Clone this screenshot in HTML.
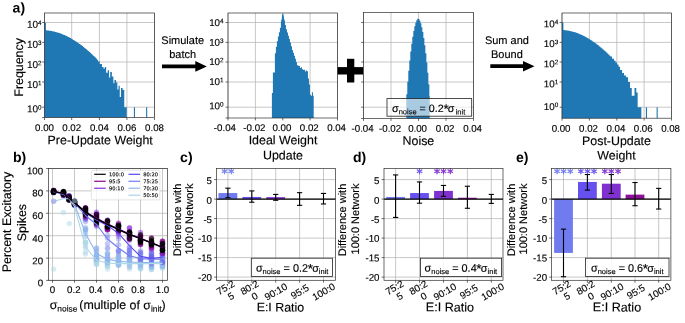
<!DOCTYPE html>
<html lang="en">
<head>
<meta charset="utf-8">
<title>Noise figure</title>
<style>
html,body{margin:0;padding:0;background:#fff;}
body{width:685px;height:323px;overflow:hidden;font-family:"Liberation Sans", Arial, Helvetica, sans-serif;}
svg{display:block;}
svg text{font-family:"Liberation Sans", Arial, Helvetica, sans-serif;}
</style>
</head>
<body>
<svg width="685" height="323" viewBox="0 0 685 323" text-rendering="geometricPrecision">
<defs><clipPath id="clipb"><rect x="48.5" y="168.5" width="119" height="111.8"/></clipPath></defs>
<rect width="685" height="323" fill="#fff"/>
<rect x="44.5" y="13" width="110" height="104.6" fill="#fff" stroke="none" stroke-width="0.8" />
<line x1="44.5" y1="13" x2="44.5" y2="117.6" stroke="#b0b0b0" stroke-width="0.7" />
<line x1="71.7" y1="13" x2="71.7" y2="117.6" stroke="#b0b0b0" stroke-width="0.7" />
<line x1="99.4" y1="13" x2="99.4" y2="117.6" stroke="#b0b0b0" stroke-width="0.7" />
<line x1="126.9" y1="13" x2="126.9" y2="117.6" stroke="#b0b0b0" stroke-width="0.7" />
<line x1="154.5" y1="13" x2="154.5" y2="117.6" stroke="#b0b0b0" stroke-width="0.7" />
<line x1="44.5" y1="22.5" x2="154.5" y2="22.5" stroke="#b0b0b0" stroke-width="0.7" />
<line x1="44.5" y1="42.4" x2="154.5" y2="42.4" stroke="#b0b0b0" stroke-width="0.7" />
<line x1="44.5" y1="62" x2="154.5" y2="62" stroke="#b0b0b0" stroke-width="0.7" />
<line x1="44.5" y1="82" x2="154.5" y2="82" stroke="#b0b0b0" stroke-width="0.7" />
<line x1="44.5" y1="107.2" x2="154.5" y2="107.2" stroke="#b0b0b0" stroke-width="0.7" />
<path d="M44.5 117.6V22.6H45.9V117.6ZM45.9 117.6V30.36H46.95V117.6ZM46.9 117.6V30.44H47.95V117.6ZM47.9 117.6V30.54H48.95V117.6ZM48.9 117.6V30.66H49.95V117.6ZM49.9 117.6V30.81H50.95V117.6ZM50.9 117.6V30.98H51.95V117.6ZM51.9 117.6V31.17H52.95V117.6ZM52.9 117.6V31.38H53.95V117.6ZM53.9 117.6V31.62H54.95V117.6ZM54.9 117.6V31.88H55.95V117.6ZM55.9 117.6V32.16H56.95V117.6ZM56.9 117.6V32.45H57.95V117.6ZM57.9 117.6V32.77H58.95V117.6ZM58.9 117.6V33.11H59.95V117.6ZM59.9 117.6V33.47H60.95V117.6ZM60.9 117.6V33.85H61.95V117.6ZM61.9 117.6V34.25H62.95V117.6ZM62.9 117.6V34.67H63.95V117.6ZM63.9 117.6V35.1H64.95V117.6ZM64.9 117.6V35.56H65.95V117.6ZM65.9 117.6V36.04H66.95V117.6ZM66.9 117.6V36.53H67.95V117.6ZM67.9 117.6V37.04H68.95V117.6ZM68.9 117.6V37.57H69.95V117.6ZM69.9 117.6V38.12H70.95V117.6ZM70.9 117.6V38.69H71.95V117.6ZM71.9 117.6V39.28H72.95V117.6ZM72.9 117.6V39.88H73.95V117.6ZM73.9 117.6V40.5H74.95V117.6ZM74.9 117.6V41.14H75.95V117.6ZM75.9 117.6V41.8H76.95V117.6ZM76.9 117.6V42.48H77.95V117.6ZM77.9 117.6V43.17H78.95V117.6ZM78.9 117.6V43.88H79.95V117.6ZM79.9 117.6V44.61H80.95V117.6ZM80.9 117.6V45.36H81.95V117.6ZM81.9 117.6V46.12H82.95V117.6ZM82.9 117.6V46.9H83.95V117.6ZM83.9 117.6V47.7H84.95V117.6ZM84.9 117.6V48.52H85.95V117.6ZM85.9 117.6V49.35H86.95V117.6ZM86.9 117.6V50.2H87.95V117.6ZM87.9 117.6V51.06H88.95V117.6ZM88.9 117.6V51.95H89.95V117.6ZM89.9 117.6V52.85H90.95V117.6ZM90.9 117.6V53.77H91.95V117.6ZM91.9 117.6V54.7H92.95V117.6ZM92.9 117.6V55.65H93.95V117.6ZM93.9 117.6V56.62H94.95V117.6ZM94.9 117.6V57.6H95.95V117.6ZM95.9 117.6V58.6H96.95V117.6ZM96 117.6V59.7H97.95V117.6ZM97.9 117.6V61.6H99.75V117.6ZM99.7 117.6V64H101.95V117.6ZM101.9 117.6V67H103.45V117.6ZM103.4 117.6V68.4H104.95V117.6ZM104.9 117.6V67.1H106.15V117.6ZM106.1 117.6V72.7H107.75V117.6ZM107.7 117.6V70.2H109.05V117.6ZM109 117.6V77.6H110.25V117.6ZM110.2 117.6V72H111.85V117.6ZM111.8 117.6V76.4H113.35V117.6ZM113.3 117.6V83.2H114.55V117.6ZM114.5 117.6V80.1H116.05V117.6ZM116 117.6V82.6H117.35V117.6ZM117.3 117.6V89.4H118.55V117.6ZM118.5 117.6V85.7H119.75V117.6ZM119.7 117.6V97H121.05V117.6ZM121 117.6V87.9H122.65V117.6ZM122.6 117.6V90H124.25V117.6ZM124.2 117.6V107.2H126.75V117.6ZM133.9 117.6V107.2H135V117.6ZM146.1 117.6V107.2H147.2V117.6Z" fill="#1f77b4"/>
<rect x="44.5" y="13" width="110" height="104.6" fill="none" stroke="#2e2e2e" stroke-width="0.7" />
<line x1="44.5" y1="117.6" x2="44.5" y2="120" stroke="#2e2e2e" stroke-width="0.7" />
<line x1="71.7" y1="117.6" x2="71.7" y2="120" stroke="#2e2e2e" stroke-width="0.7" />
<line x1="99.4" y1="117.6" x2="99.4" y2="120" stroke="#2e2e2e" stroke-width="0.7" />
<line x1="126.9" y1="117.6" x2="126.9" y2="120" stroke="#2e2e2e" stroke-width="0.7" />
<line x1="154.5" y1="117.6" x2="154.5" y2="120" stroke="#2e2e2e" stroke-width="0.7" />
<line x1="42.1" y1="22.5" x2="44.5" y2="22.5" stroke="#2e2e2e" stroke-width="0.7" />
<line x1="42.1" y1="42.4" x2="44.5" y2="42.4" stroke="#2e2e2e" stroke-width="0.7" />
<line x1="42.1" y1="62" x2="44.5" y2="62" stroke="#2e2e2e" stroke-width="0.7" />
<line x1="42.1" y1="82" x2="44.5" y2="82" stroke="#2e2e2e" stroke-width="0.7" />
<line x1="42.1" y1="107.2" x2="44.5" y2="107.2" stroke="#2e2e2e" stroke-width="0.7" />
<text x="41.6" y="27.9" font-size="10" text-anchor="end" fill="#000" transform="rotate(0.1 41.6 27.9)"  stroke="#000" stroke-width="0.14">10<tspan font-size="6.3" dy="-2.8">4</tspan></text>
<text x="41.6" y="47.8" font-size="10" text-anchor="end" fill="#000" transform="rotate(0.1 41.6 47.8)"  stroke="#000" stroke-width="0.14">10<tspan font-size="6.3" dy="-2.8">3</tspan></text>
<text x="41.6" y="68" font-size="10" text-anchor="end" fill="#000" transform="rotate(0.1 41.6 68)"  stroke="#000" stroke-width="0.14">10<tspan font-size="6.3" dy="-2.8">2</tspan></text>
<text x="41.6" y="88.1" font-size="10" text-anchor="end" fill="#000" transform="rotate(0.1 41.6 88.1)"  stroke="#000" stroke-width="0.14">10<tspan font-size="6.3" dy="-2.8">1</tspan></text>
<text x="41.6" y="112.4" font-size="10" text-anchor="end" fill="#000" transform="rotate(0.1 41.6 112.4)"  stroke="#000" stroke-width="0.14">10<tspan font-size="6.3" dy="-2.8">0</tspan></text>
<line x1="42.1" y1="117.6" x2="44.5" y2="117.6" stroke="#2e2e2e" stroke-width="0.7" />
<text x="44.5" y="131" font-size="9.7" text-anchor="middle" fill="#000" transform="rotate(0.1 44.5 131)"  stroke="#000" stroke-width="0.14">0.00</text>
<text x="71.7" y="131" font-size="9.7" text-anchor="middle" fill="#000" transform="rotate(0.1 71.7 131)"  stroke="#000" stroke-width="0.14">0.02</text>
<text x="99.4" y="131" font-size="9.7" text-anchor="middle" fill="#000" transform="rotate(0.1 99.4 131)"  stroke="#000" stroke-width="0.14">0.04</text>
<text x="126.9" y="131" font-size="9.7" text-anchor="middle" fill="#000" transform="rotate(0.1 126.9 131)"  stroke="#000" stroke-width="0.14">0.06</text>
<text x="154.5" y="131" font-size="9.7" text-anchor="middle" fill="#000" transform="rotate(0.1 154.5 131)"  stroke="#000" stroke-width="0.14">0.08</text>
<text x="100.2" y="144.3" font-size="12.4" text-anchor="middle" fill="#000" transform="rotate(0.1 100.2 144.3)"  stroke="#000" stroke-width="0.14">Pre-Update Weight</text>
<text x="23.3" y="67.4" font-size="12.4" text-anchor="middle" fill="#000" transform="rotate(-90 23.3 67.4)"  stroke="#000" stroke-width="0.14">Frequency</text>
<text x="12.6" y="12.6" font-size="14" text-anchor="start" font-weight="bold" fill="#000" transform="rotate(0.1 12.6 12.6)" >a)</text>
<path d="M162 64.5H195.3V61.1L206.8 66.4L195.3 71.7V68.3H162Z" fill="#000"/>
<text x="182.7" y="44" font-size="11" text-anchor="middle" fill="#000" transform="rotate(0.1 182.7 44)"  stroke="#000" stroke-width="0.14">Simulate</text>
<text x="182.7" y="58" font-size="11" text-anchor="middle" fill="#000" transform="rotate(0.1 182.7 58)"  stroke="#000" stroke-width="0.14">batch</text>
<rect x="228" y="13" width="109.5" height="105" fill="#fff" stroke="none" stroke-width="0.8" />
<line x1="228" y1="13" x2="228" y2="118" stroke="#b0b0b0" stroke-width="0.7" />
<line x1="255.4" y1="13" x2="255.4" y2="118" stroke="#b0b0b0" stroke-width="0.7" />
<line x1="282.8" y1="13" x2="282.8" y2="118" stroke="#b0b0b0" stroke-width="0.7" />
<line x1="310.1" y1="13" x2="310.1" y2="118" stroke="#b0b0b0" stroke-width="0.7" />
<line x1="337.5" y1="13" x2="337.5" y2="118" stroke="#b0b0b0" stroke-width="0.7" />
<line x1="228" y1="22.5" x2="337.5" y2="22.5" stroke="#b0b0b0" stroke-width="0.7" />
<line x1="228" y1="42.4" x2="337.5" y2="42.4" stroke="#b0b0b0" stroke-width="0.7" />
<line x1="228" y1="62" x2="337.5" y2="62" stroke="#b0b0b0" stroke-width="0.7" />
<line x1="228" y1="82" x2="337.5" y2="82" stroke="#b0b0b0" stroke-width="0.7" />
<line x1="228" y1="107.2" x2="337.5" y2="107.2" stroke="#b0b0b0" stroke-width="0.7" />
<path d="M271.9 118V92.9H272.95V118ZM272.9 118V72.4H273.95V118ZM273.9 118V72.4H274.95V118ZM274.9 118V53.34H275.95V118ZM275.9 118V46.78H276.95V118ZM276.9 118V41.13H277.95V118ZM277.9 118V36.55H278.95V118ZM278.9 118V32.25H279.95V118ZM279.9 118V27.67H280.95V118ZM280.9 118V22.02H281.95V118ZM281.9 118V16.36H282.95V118ZM282.9 118V16.62H283.95V118ZM283.9 118V20.82H284.95V118ZM284.9 118V25.02H285.95V118ZM285.9 118V29.13H286.95V118ZM286.9 118V32.42H287.95V118ZM287.9 118V35.72H288.95V118ZM288.9 118V39.01H289.95V118ZM289.9 118V42.58H290.95V118ZM290.9 118V46.28H291.95V118ZM291.9 118V49.9H292.95V118ZM292.9 118V52.87H293.95V118ZM293.9 118V55.84H294.95V118ZM294.9 118V58.81H295.95V118ZM295.9 118V61.94H296.95V118ZM296.9 118V65.18H297.95V118ZM297.9 118V65.72H298.95V118ZM298.9 118V66.02H299.95V118ZM299.9 118V67.93H300.95V118ZM300.9 118V67.3H301.95V118ZM301.9 118V69.23H302.95V118ZM302.9 118V69.63H303.95V118ZM303.9 118V69.71H304.95V118ZM304.9 118V71.52H305.95V118ZM305.9 118V70.39H306.95V118ZM306.9 118V71.34H307.95V118ZM307.9 118V78.5H308.95V118ZM308.9 118V84.61H309.95V118ZM309.9 118V94.78H310.95V118ZM310.9 118V95.8H311.95V118ZM311.9 118V92.3H312.95V118ZM312.9 118V95.8H313.7V118ZM282 118V14.2H283.6V118ZM281.2 118V19.5H284.6V118Z" fill="#1f77b4"/>
<rect x="228" y="13" width="109.5" height="105" fill="none" stroke="#2e2e2e" stroke-width="0.7" />
<line x1="228" y1="118" x2="228" y2="120.4" stroke="#2e2e2e" stroke-width="0.7" />
<line x1="255.4" y1="118" x2="255.4" y2="120.4" stroke="#2e2e2e" stroke-width="0.7" />
<line x1="282.8" y1="118" x2="282.8" y2="120.4" stroke="#2e2e2e" stroke-width="0.7" />
<line x1="310.1" y1="118" x2="310.1" y2="120.4" stroke="#2e2e2e" stroke-width="0.7" />
<line x1="337.5" y1="118" x2="337.5" y2="120.4" stroke="#2e2e2e" stroke-width="0.7" />
<line x1="225.6" y1="22.5" x2="228" y2="22.5" stroke="#2e2e2e" stroke-width="0.7" />
<line x1="225.6" y1="42.4" x2="228" y2="42.4" stroke="#2e2e2e" stroke-width="0.7" />
<line x1="225.6" y1="62" x2="228" y2="62" stroke="#2e2e2e" stroke-width="0.7" />
<line x1="225.6" y1="82" x2="228" y2="82" stroke="#2e2e2e" stroke-width="0.7" />
<line x1="225.6" y1="107.2" x2="228" y2="107.2" stroke="#2e2e2e" stroke-width="0.7" />
<line x1="225.6" y1="118" x2="228" y2="118" stroke="#2e2e2e" stroke-width="0.7" />
<text x="223.6" y="26" font-size="9.8" text-anchor="end" fill="#000" transform="rotate(0.1 223.6 26)"  stroke="#000" stroke-width="0.14">10<tspan font-size="6.4" dy="-2.8">4</tspan></text>
<text x="223.6" y="45.9" font-size="9.8" text-anchor="end" fill="#000" transform="rotate(0.1 223.6 45.9)"  stroke="#000" stroke-width="0.14">10<tspan font-size="6.4" dy="-2.8">3</tspan></text>
<text x="223.6" y="65.1" font-size="9.8" text-anchor="end" fill="#000" transform="rotate(0.1 223.6 65.1)"  stroke="#000" stroke-width="0.14">10<tspan font-size="6.4" dy="-2.8">2</tspan></text>
<text x="223.6" y="85.1" font-size="9.8" text-anchor="end" fill="#000" transform="rotate(0.1 223.6 85.1)"  stroke="#000" stroke-width="0.14">10<tspan font-size="6.4" dy="-2.8">1</tspan></text>
<text x="223.6" y="109.2" font-size="9.8" text-anchor="end" fill="#000" transform="rotate(0.1 223.6 109.2)"  stroke="#000" stroke-width="0.14">10<tspan font-size="6.4" dy="-2.8">0</tspan></text>
<text x="224.9" y="131" font-size="9.7" text-anchor="middle" fill="#000" transform="rotate(0.1 224.9 131)"  stroke="#000" stroke-width="0.14">-0.04</text>
<text x="254.4" y="131" font-size="9.7" text-anchor="middle" fill="#000" transform="rotate(0.1 254.4 131)"  stroke="#000" stroke-width="0.14">-0.02</text>
<text x="281.9" y="131" font-size="9.7" text-anchor="middle" fill="#000" transform="rotate(0.1 281.9 131)"  stroke="#000" stroke-width="0.14">0.00</text>
<text x="309.3" y="131" font-size="9.7" text-anchor="middle" fill="#000" transform="rotate(0.1 309.3 131)"  stroke="#000" stroke-width="0.14">0.02</text>
<text x="336.6" y="131" font-size="9.7" text-anchor="middle" fill="#000" transform="rotate(0.1 336.6 131)"  stroke="#000" stroke-width="0.14">0.04</text>
<text x="283" y="144.3" font-size="12.4" text-anchor="middle" fill="#000" transform="rotate(0.1 283 144.3)"  stroke="#000" stroke-width="0.14">Ideal Weight</text>
<text x="283" y="159.4" font-size="12.4" text-anchor="middle" fill="#000" transform="rotate(0.1 283 159.4)"  stroke="#000" stroke-width="0.14">Update</text>
<rect x="337.6" y="67.1" width="25.8" height="7.4" fill="#000" stroke="none" stroke-width="0.8" />
<rect x="347" y="58.8" width="7.3" height="23.7" fill="#000" stroke="none" stroke-width="0.8" />
<rect x="363.5" y="12.5" width="110" height="106" fill="#fff" stroke="none" stroke-width="0.8" />
<line x1="363.5" y1="12.5" x2="363.5" y2="118.5" stroke="#b0b0b0" stroke-width="0.7" />
<line x1="391" y1="12.5" x2="391" y2="118.5" stroke="#b0b0b0" stroke-width="0.7" />
<line x1="418.5" y1="12.5" x2="418.5" y2="118.5" stroke="#b0b0b0" stroke-width="0.7" />
<line x1="446" y1="12.5" x2="446" y2="118.5" stroke="#b0b0b0" stroke-width="0.7" />
<line x1="473.5" y1="12.5" x2="473.5" y2="118.5" stroke="#b0b0b0" stroke-width="0.7" />
<line x1="363.5" y1="22.5" x2="473.5" y2="22.5" stroke="#b0b0b0" stroke-width="0.7" />
<line x1="363.5" y1="42.4" x2="473.5" y2="42.4" stroke="#b0b0b0" stroke-width="0.7" />
<line x1="363.5" y1="62" x2="473.5" y2="62" stroke="#b0b0b0" stroke-width="0.7" />
<line x1="363.5" y1="82" x2="473.5" y2="82" stroke="#b0b0b0" stroke-width="0.7" />
<line x1="363.5" y1="107.2" x2="473.5" y2="107.2" stroke="#b0b0b0" stroke-width="0.7" />
<path d="M406.3 118.5V94.13H407.35V118.5ZM407.3 118.5V81.87H408.35V118.5ZM408.3 118.5V70.69H409.35V118.5ZM409.3 118.5V60.59H410.35V118.5ZM410.3 118.5V51.58H411.35V118.5ZM411.3 118.5V43.64H412.35V118.5ZM412.3 118.5V36.78H413.35V118.5ZM413.3 118.5V31H414.35V118.5ZM414.3 118.5V26.3H415.35V118.5ZM415.3 118.5V22.69H416.35V118.5ZM416.3 118.5V20.15H417.35V118.5ZM417.3 118.5V18.69H418.35V118.5ZM418.3 118.5V18.9H419.35V118.5ZM419.3 118.5V20.57H420.35V118.5ZM420.3 118.5V23.32H421.35V118.5ZM421.3 118.5V27.16H422.35V118.5ZM422.3 118.5V32.07H423.35V118.5ZM423.3 118.5V38.07H424.35V118.5ZM424.3 118.5V45.14H425.35V118.5ZM425.3 118.5V53.29H426.35V118.5ZM426.3 118.5V62.53H427.35V118.5ZM427.3 118.5V72.84H428.35V118.5ZM428.3 118.5V84.24H429.35V118.5ZM429.3 118.5V96H429.7V118.5Z" fill="#1f77b4"/>
<rect x="363.5" y="12.5" width="110" height="106" fill="none" stroke="#2e2e2e" stroke-width="0.7" />
<line x1="363.5" y1="118.5" x2="363.5" y2="120.9" stroke="#2e2e2e" stroke-width="0.7" />
<line x1="391" y1="118.5" x2="391" y2="120.9" stroke="#2e2e2e" stroke-width="0.7" />
<line x1="418.5" y1="118.5" x2="418.5" y2="120.9" stroke="#2e2e2e" stroke-width="0.7" />
<line x1="446" y1="118.5" x2="446" y2="120.9" stroke="#2e2e2e" stroke-width="0.7" />
<line x1="473.5" y1="118.5" x2="473.5" y2="120.9" stroke="#2e2e2e" stroke-width="0.7" />
<line x1="361.1" y1="22.5" x2="363.5" y2="22.5" stroke="#2e2e2e" stroke-width="0.7" />
<line x1="361.1" y1="42.4" x2="363.5" y2="42.4" stroke="#2e2e2e" stroke-width="0.7" />
<line x1="361.1" y1="62" x2="363.5" y2="62" stroke="#2e2e2e" stroke-width="0.7" />
<line x1="361.1" y1="82" x2="363.5" y2="82" stroke="#2e2e2e" stroke-width="0.7" />
<line x1="361.1" y1="107.2" x2="363.5" y2="107.2" stroke="#2e2e2e" stroke-width="0.7" />
<text x="362.6" y="131.8" font-size="9.7" text-anchor="middle" fill="#000" transform="rotate(0.1 362.6 131.8)"  stroke="#000" stroke-width="0.14">-0.04</text>
<text x="390.1" y="131.8" font-size="9.7" text-anchor="middle" fill="#000" transform="rotate(0.1 390.1 131.8)"  stroke="#000" stroke-width="0.14">-0.02</text>
<text x="417.6" y="131.8" font-size="9.7" text-anchor="middle" fill="#000" transform="rotate(0.1 417.6 131.8)"  stroke="#000" stroke-width="0.14">0.00</text>
<text x="445.1" y="131.8" font-size="9.7" text-anchor="middle" fill="#000" transform="rotate(0.1 445.1 131.8)"  stroke="#000" stroke-width="0.14">0.02</text>
<text x="472.6" y="131.8" font-size="9.7" text-anchor="middle" fill="#000" transform="rotate(0.1 472.6 131.8)"  stroke="#000" stroke-width="0.14">0.04</text>
<line x1="361.1" y1="118.5" x2="363.5" y2="118.5" stroke="#2e2e2e" stroke-width="0.7" />
<text x="418.4" y="144.9" font-size="12.4" text-anchor="middle" fill="#000" transform="rotate(0.1 418.4 144.9)"  stroke="#000" stroke-width="0.14">Noise</text>
<rect x="387" y="98.6" width="84.7" height="17.6" fill="#fff" stroke="#222" stroke-width="0.8" fill-opacity="0.62"/>
<text x="392.1" y="111.9" font-size="10.7" text-anchor="start" fill="#000" transform="rotate(0.1 392.1 111.9)"  stroke="#000" stroke-width="0.14">σ<tspan font-size="7.5" dy="2.4">noise</tspan><tspan dy="-2.4"> = 0.2</tspan><tspan font-size="13.5" dy="1.5" dx="-0.3">*</tspan><tspan dy="-1.5" dx="-0.8">σ</tspan><tspan font-size="7.5" dy="2.4" dx="1.2">init</tspan></text>
<path d="M490.3 64.3H523V60.9L534.5 66.2L523 71.5V68.1H490.3Z" fill="#000"/>
<text x="506.9" y="44" font-size="11" text-anchor="middle" fill="#000" transform="rotate(0.1 506.9 44)"  stroke="#000" stroke-width="0.14">Sum and</text>
<text x="506.9" y="58" font-size="11" text-anchor="middle" fill="#000" transform="rotate(0.1 506.9 58)"  stroke="#000" stroke-width="0.14">Bound</text>
<rect x="562" y="13" width="109.5" height="105.2" fill="#fff" stroke="none" stroke-width="0.8" />
<line x1="562" y1="13" x2="562" y2="118.2" stroke="#b0b0b0" stroke-width="0.7" />
<line x1="589.4" y1="13" x2="589.4" y2="118.2" stroke="#b0b0b0" stroke-width="0.7" />
<line x1="616.8" y1="13" x2="616.8" y2="118.2" stroke="#b0b0b0" stroke-width="0.7" />
<line x1="644.1" y1="13" x2="644.1" y2="118.2" stroke="#b0b0b0" stroke-width="0.7" />
<line x1="671.5" y1="13" x2="671.5" y2="118.2" stroke="#b0b0b0" stroke-width="0.7" />
<line x1="562" y1="22.5" x2="671.5" y2="22.5" stroke="#b0b0b0" stroke-width="0.7" />
<line x1="562" y1="42.4" x2="671.5" y2="42.4" stroke="#b0b0b0" stroke-width="0.7" />
<line x1="562" y1="62" x2="671.5" y2="62" stroke="#b0b0b0" stroke-width="0.7" />
<line x1="562" y1="82" x2="671.5" y2="82" stroke="#b0b0b0" stroke-width="0.7" />
<line x1="562" y1="107.2" x2="671.5" y2="107.2" stroke="#b0b0b0" stroke-width="0.7" />
<path d="M562 118.2V22.6H563.4V118.2ZM563.4 118.2V30.07H564.45V118.2ZM564.4 118.2V30.14H565.45V118.2ZM565.4 118.2V30.25H566.45V118.2ZM566.4 118.2V30.38H567.45V118.2ZM567.4 118.2V30.53H568.45V118.2ZM568.4 118.2V30.71H569.45V118.2ZM569.4 118.2V30.92H570.45V118.2ZM570.4 118.2V31.14H571.45V118.2ZM571.4 118.2V31.39H572.45V118.2ZM572.4 118.2V31.66H573.45V118.2ZM573.4 118.2V31.95H574.45V118.2ZM574.4 118.2V32.27H575.45V118.2ZM575.4 118.2V32.6H576.45V118.2ZM576.4 118.2V32.96H577.45V118.2ZM577.4 118.2V33.34H578.45V118.2ZM578.4 118.2V33.74H579.45V118.2ZM579.4 118.2V34.16H580.45V118.2ZM580.4 118.2V34.6H581.45V118.2ZM581.4 118.2V35.06H582.45V118.2ZM582.4 118.2V35.54H583.45V118.2ZM583.4 118.2V36.04H584.45V118.2ZM584.4 118.2V36.56H585.45V118.2ZM585.4 118.2V37.1H586.45V118.2ZM586.4 118.2V37.66H587.45V118.2ZM587.4 118.2V38.23H588.45V118.2ZM588.4 118.2V38.83H589.45V118.2ZM589.4 118.2V39.45H590.45V118.2ZM590.4 118.2V40.09H591.45V118.2ZM591.4 118.2V40.74H592.45V118.2ZM592.4 118.2V41.41H593.45V118.2ZM593.4 118.2V42.11H594.45V118.2ZM594.4 118.2V42.82H595.45V118.2ZM595.4 118.2V43.55H596.45V118.2ZM596.4 118.2V44.3H597.45V118.2ZM597.4 118.2V45.06H598.45V118.2ZM598.4 118.2V45.85H599.45V118.2ZM599.4 118.2V46.65H600.45V118.2ZM600.4 118.2V47.48H601.45V118.2ZM601.4 118.2V48.32H602.45V118.2ZM602.4 118.2V49.17H603.45V118.2ZM603.4 118.2V50.05H604.45V118.2ZM604.4 118.2V50.94H605.45V118.2ZM605.4 118.2V51.86H606.45V118.2ZM606.4 118.2V52.79H607.45V118.2ZM607.4 118.2V53.73H608.45V118.2ZM608.4 118.2V54.7H609.45V118.2ZM609.4 118.2V55.68H610.45V118.2ZM610 118.2V56.6H612.05V118.2ZM612 118.2V58.8H614.05V118.2ZM614 118.2V60.8H615.55V118.2ZM615.5 118.2V62.5H617.05V118.2ZM617 118.2V64.6H618.55V118.2ZM618.5 118.2V66.8H620.05V118.2ZM620 118.2V70H622.05V118.2ZM622 118.2V73H624.05V118.2ZM624 118.2V75.6H626.05V118.2ZM626 118.2V77.2H628.05V118.2ZM628 118.2V82H630.05V118.2ZM630 118.2V88H631.75V118.2ZM631.7 118.2V95.8H634.55V118.2ZM634.5 118.2V88H636.25V118.2ZM636.2 118.2V92.6H637.65V118.2ZM637.6 118.2V107.2H641.35V118.2ZM645.9 118.2V107.2H647V118.2ZM656.6 118.2V107.2H657.7V118.2Z" fill="#1f77b4"/>
<rect x="562" y="13" width="109.5" height="105.2" fill="none" stroke="#2e2e2e" stroke-width="0.7" />
<line x1="562" y1="118.2" x2="562" y2="120.6" stroke="#2e2e2e" stroke-width="0.7" />
<line x1="589.4" y1="118.2" x2="589.4" y2="120.6" stroke="#2e2e2e" stroke-width="0.7" />
<line x1="616.8" y1="118.2" x2="616.8" y2="120.6" stroke="#2e2e2e" stroke-width="0.7" />
<line x1="644.1" y1="118.2" x2="644.1" y2="120.6" stroke="#2e2e2e" stroke-width="0.7" />
<line x1="671.5" y1="118.2" x2="671.5" y2="120.6" stroke="#2e2e2e" stroke-width="0.7" />
<line x1="559.6" y1="22.5" x2="562" y2="22.5" stroke="#2e2e2e" stroke-width="0.7" />
<line x1="559.6" y1="42.4" x2="562" y2="42.4" stroke="#2e2e2e" stroke-width="0.7" />
<line x1="559.6" y1="62" x2="562" y2="62" stroke="#2e2e2e" stroke-width="0.7" />
<line x1="559.6" y1="82" x2="562" y2="82" stroke="#2e2e2e" stroke-width="0.7" />
<line x1="559.6" y1="107.2" x2="562" y2="107.2" stroke="#2e2e2e" stroke-width="0.7" />
<text x="558.3" y="27.2" font-size="9.8" text-anchor="end" fill="#000" transform="rotate(0.1 558.3 27.2)"  stroke="#000" stroke-width="0.14">10<tspan font-size="6.4" dy="-2.9">4</tspan></text>
<text x="558.3" y="47.1" font-size="9.8" text-anchor="end" fill="#000" transform="rotate(0.1 558.3 47.1)"  stroke="#000" stroke-width="0.14">10<tspan font-size="6.4" dy="-2.9">3</tspan></text>
<text x="558.3" y="67.2" font-size="9.8" text-anchor="end" fill="#000" transform="rotate(0.1 558.3 67.2)"  stroke="#000" stroke-width="0.14">10<tspan font-size="6.4" dy="-2.9">2</tspan></text>
<text x="558.3" y="87.2" font-size="9.8" text-anchor="end" fill="#000" transform="rotate(0.1 558.3 87.2)"  stroke="#000" stroke-width="0.14">10<tspan font-size="6.4" dy="-2.9">1</tspan></text>
<text x="558.3" y="110" font-size="9.8" text-anchor="end" fill="#000" transform="rotate(0.1 558.3 110)"  stroke="#000" stroke-width="0.14">10<tspan font-size="6.4" dy="-2.9">0</tspan></text>
<text x="561.1" y="131.7" font-size="9.7" text-anchor="middle" fill="#000" transform="rotate(0.1 561.1 131.7)"  stroke="#000" stroke-width="0.14">0.00</text>
<text x="588.5" y="131.7" font-size="9.7" text-anchor="middle" fill="#000" transform="rotate(0.1 588.5 131.7)"  stroke="#000" stroke-width="0.14">0.02</text>
<text x="615.9" y="131.7" font-size="9.7" text-anchor="middle" fill="#000" transform="rotate(0.1 615.9 131.7)"  stroke="#000" stroke-width="0.14">0.04</text>
<text x="643.2" y="131.7" font-size="9.7" text-anchor="middle" fill="#000" transform="rotate(0.1 643.2 131.7)"  stroke="#000" stroke-width="0.14">0.06</text>
<text x="670.6" y="131.7" font-size="9.7" text-anchor="middle" fill="#000" transform="rotate(0.1 670.6 131.7)"  stroke="#000" stroke-width="0.14">0.08</text>
<text x="616.5" y="145" font-size="12.4" text-anchor="middle" fill="#000" transform="rotate(0.1 616.5 145)"  stroke="#000" stroke-width="0.14">Post-Update</text>
<text x="616.5" y="159.6" font-size="12.4" text-anchor="middle" fill="#000" transform="rotate(0.1 616.5 159.6)"  stroke="#000" stroke-width="0.14">Weight</text>
<rect x="48.5" y="168.5" width="119" height="111.8" fill="#fff" stroke="none" stroke-width="0.8" />
<line x1="52.5" y1="168.5" x2="52.5" y2="280.3" stroke="#b0b0b0" stroke-width="0.7" />
<line x1="74.5" y1="168.5" x2="74.5" y2="280.3" stroke="#b0b0b0" stroke-width="0.7" />
<line x1="96.5" y1="168.5" x2="96.5" y2="280.3" stroke="#b0b0b0" stroke-width="0.7" />
<line x1="118.5" y1="168.5" x2="118.5" y2="280.3" stroke="#b0b0b0" stroke-width="0.7" />
<line x1="140.5" y1="168.5" x2="140.5" y2="280.3" stroke="#b0b0b0" stroke-width="0.7" />
<line x1="162.5" y1="168.5" x2="162.5" y2="280.3" stroke="#b0b0b0" stroke-width="0.7" />
<line x1="48.5" y1="168.5" x2="167.5" y2="168.5" stroke="#b0b0b0" stroke-width="0.7" />
<line x1="48.5" y1="190.9" x2="167.5" y2="190.9" stroke="#b0b0b0" stroke-width="0.7" />
<line x1="48.5" y1="213.3" x2="167.5" y2="213.3" stroke="#b0b0b0" stroke-width="0.7" />
<line x1="48.5" y1="235.7" x2="167.5" y2="235.7" stroke="#b0b0b0" stroke-width="0.7" />
<line x1="48.5" y1="258.1" x2="167.5" y2="258.1" stroke="#b0b0b0" stroke-width="0.7" />
<line x1="48.5" y1="280.4" x2="167.5" y2="280.4" stroke="#b0b0b0" stroke-width="0.7" />
<g clip-path="url(#clipb)">
<circle cx="96.5" cy="260.28" r="2.7" fill="#8f98ee" fill-opacity="0.45"/>
<circle cx="96.5" cy="259.96" r="2.7" fill="#8f98ee" fill-opacity="0.45"/>
<circle cx="96.5" cy="254.73" r="2.7" fill="#8f98ee" fill-opacity="0.45"/>
<circle cx="96.5" cy="248.42" r="2.7" fill="#8f98ee" fill-opacity="0.45"/>
<circle cx="96.5" cy="259.44" r="2.7" fill="#8f98ee" fill-opacity="0.45"/>
<circle cx="96.5" cy="257.88" r="2.7" fill="#8f98ee" fill-opacity="0.45"/>
<circle cx="96.5" cy="251.55" r="2.7" fill="#8f98ee" fill-opacity="0.45"/>
<circle cx="96.5" cy="259.52" r="2.7" fill="#add8e6" fill-opacity="0.5"/>
<circle cx="96.5" cy="262.21" r="2.7" fill="#add8e6" fill-opacity="0.5"/>
<circle cx="96.5" cy="263.53" r="2.7" fill="#add8e6" fill-opacity="0.5"/>
<circle cx="96.5" cy="259.31" r="2.7" fill="#add8e6" fill-opacity="0.5"/>
<circle cx="107.5" cy="260.65" r="2.7" fill="#8f98ee" fill-opacity="0.45"/>
<circle cx="107.5" cy="247.93" r="2.7" fill="#8f98ee" fill-opacity="0.45"/>
<circle cx="107.5" cy="256.84" r="2.7" fill="#8f98ee" fill-opacity="0.45"/>
<circle cx="107.5" cy="259.12" r="2.7" fill="#8f98ee" fill-opacity="0.45"/>
<circle cx="107.5" cy="259.53" r="2.7" fill="#8f98ee" fill-opacity="0.45"/>
<circle cx="107.5" cy="256.54" r="2.7" fill="#8f98ee" fill-opacity="0.45"/>
<circle cx="107.5" cy="248.59" r="2.7" fill="#8f98ee" fill-opacity="0.45"/>
<circle cx="107.5" cy="265.1" r="2.7" fill="#add8e6" fill-opacity="0.5"/>
<circle cx="107.5" cy="262.18" r="2.7" fill="#add8e6" fill-opacity="0.5"/>
<circle cx="107.5" cy="261.77" r="2.7" fill="#add8e6" fill-opacity="0.5"/>
<circle cx="107.5" cy="263.7" r="2.7" fill="#add8e6" fill-opacity="0.5"/>
<circle cx="118.5" cy="252.8" r="2.7" fill="#8f98ee" fill-opacity="0.45"/>
<circle cx="118.5" cy="260.39" r="2.7" fill="#8f98ee" fill-opacity="0.45"/>
<circle cx="118.5" cy="260.44" r="2.7" fill="#8f98ee" fill-opacity="0.45"/>
<circle cx="118.5" cy="258.15" r="2.7" fill="#8f98ee" fill-opacity="0.45"/>
<circle cx="118.5" cy="250.72" r="2.7" fill="#8f98ee" fill-opacity="0.45"/>
<circle cx="118.5" cy="254.68" r="2.7" fill="#8f98ee" fill-opacity="0.45"/>
<circle cx="118.5" cy="256.46" r="2.7" fill="#8f98ee" fill-opacity="0.45"/>
<circle cx="118.5" cy="262.15" r="2.7" fill="#add8e6" fill-opacity="0.5"/>
<circle cx="118.5" cy="263.12" r="2.7" fill="#add8e6" fill-opacity="0.5"/>
<circle cx="118.5" cy="264.23" r="2.7" fill="#add8e6" fill-opacity="0.5"/>
<circle cx="118.5" cy="260.63" r="2.7" fill="#add8e6" fill-opacity="0.5"/>
<circle cx="129.5" cy="250.43" r="2.7" fill="#8f98ee" fill-opacity="0.45"/>
<circle cx="129.5" cy="257.55" r="2.7" fill="#8f98ee" fill-opacity="0.45"/>
<circle cx="129.5" cy="252.38" r="2.7" fill="#8f98ee" fill-opacity="0.45"/>
<circle cx="129.5" cy="253.15" r="2.7" fill="#8f98ee" fill-opacity="0.45"/>
<circle cx="129.5" cy="247.67" r="2.7" fill="#8f98ee" fill-opacity="0.45"/>
<circle cx="129.5" cy="249.95" r="2.7" fill="#8f98ee" fill-opacity="0.45"/>
<circle cx="129.5" cy="256.87" r="2.7" fill="#8f98ee" fill-opacity="0.45"/>
<circle cx="129.5" cy="259.28" r="2.7" fill="#add8e6" fill-opacity="0.5"/>
<circle cx="129.5" cy="265.55" r="2.7" fill="#add8e6" fill-opacity="0.5"/>
<circle cx="129.5" cy="263.37" r="2.7" fill="#add8e6" fill-opacity="0.5"/>
<circle cx="129.5" cy="260.91" r="2.7" fill="#add8e6" fill-opacity="0.5"/>
<circle cx="140.5" cy="259.51" r="2.7" fill="#8f98ee" fill-opacity="0.45"/>
<circle cx="140.5" cy="255.36" r="2.7" fill="#8f98ee" fill-opacity="0.45"/>
<circle cx="140.5" cy="260.89" r="2.7" fill="#8f98ee" fill-opacity="0.45"/>
<circle cx="140.5" cy="253.15" r="2.7" fill="#8f98ee" fill-opacity="0.45"/>
<circle cx="140.5" cy="251.97" r="2.7" fill="#8f98ee" fill-opacity="0.45"/>
<circle cx="140.5" cy="254.32" r="2.7" fill="#8f98ee" fill-opacity="0.45"/>
<circle cx="140.5" cy="250.6" r="2.7" fill="#8f98ee" fill-opacity="0.45"/>
<circle cx="140.5" cy="264.13" r="2.7" fill="#add8e6" fill-opacity="0.5"/>
<circle cx="140.5" cy="261.36" r="2.7" fill="#add8e6" fill-opacity="0.5"/>
<circle cx="140.5" cy="262.09" r="2.7" fill="#add8e6" fill-opacity="0.5"/>
<circle cx="140.5" cy="262.19" r="2.7" fill="#add8e6" fill-opacity="0.5"/>
<circle cx="151.5" cy="255.76" r="2.7" fill="#8f98ee" fill-opacity="0.45"/>
<circle cx="151.5" cy="251.04" r="2.7" fill="#8f98ee" fill-opacity="0.45"/>
<circle cx="151.5" cy="249.75" r="2.7" fill="#8f98ee" fill-opacity="0.45"/>
<circle cx="151.5" cy="255.54" r="2.7" fill="#8f98ee" fill-opacity="0.45"/>
<circle cx="151.5" cy="253.2" r="2.7" fill="#8f98ee" fill-opacity="0.45"/>
<circle cx="151.5" cy="260.63" r="2.7" fill="#8f98ee" fill-opacity="0.45"/>
<circle cx="151.5" cy="252.74" r="2.7" fill="#8f98ee" fill-opacity="0.45"/>
<circle cx="151.5" cy="261.71" r="2.7" fill="#add8e6" fill-opacity="0.5"/>
<circle cx="151.5" cy="259.19" r="2.7" fill="#add8e6" fill-opacity="0.5"/>
<circle cx="151.5" cy="260.43" r="2.7" fill="#add8e6" fill-opacity="0.5"/>
<circle cx="151.5" cy="264.34" r="2.7" fill="#add8e6" fill-opacity="0.5"/>
<circle cx="162.5" cy="256.63" r="2.7" fill="#8f98ee" fill-opacity="0.45"/>
<circle cx="162.5" cy="253.15" r="2.7" fill="#8f98ee" fill-opacity="0.45"/>
<circle cx="162.5" cy="261.1" r="2.7" fill="#8f98ee" fill-opacity="0.45"/>
<circle cx="162.5" cy="255.69" r="2.7" fill="#8f98ee" fill-opacity="0.45"/>
<circle cx="162.5" cy="259.31" r="2.7" fill="#8f98ee" fill-opacity="0.45"/>
<circle cx="162.5" cy="259.94" r="2.7" fill="#8f98ee" fill-opacity="0.45"/>
<circle cx="162.5" cy="260.65" r="2.7" fill="#8f98ee" fill-opacity="0.45"/>
<circle cx="162.5" cy="260.82" r="2.7" fill="#add8e6" fill-opacity="0.5"/>
<circle cx="162.5" cy="265.47" r="2.7" fill="#add8e6" fill-opacity="0.5"/>
<circle cx="162.5" cy="264.61" r="2.7" fill="#add8e6" fill-opacity="0.5"/>
<circle cx="162.5" cy="263.57" r="2.7" fill="#add8e6" fill-opacity="0.5"/>
<circle cx="85.5" cy="242.34" r="2.7" fill="#add8e6" fill-opacity="0.50"/>
<circle cx="85.5" cy="251.9" r="2.7" fill="#add8e6" fill-opacity="0.50"/>
<circle cx="85.5" cy="247.44" r="2.7" fill="#add8e6" fill-opacity="0.50"/>
<circle cx="85.5" cy="246.23" r="2.7" fill="#add8e6" fill-opacity="0.50"/>
<circle cx="85.5" cy="242.2" r="2.7" fill="#add8e6" fill-opacity="0.50"/>
<circle cx="85.5" cy="242.97" r="2.7" fill="#add8e6" fill-opacity="0.50"/>
<circle cx="85.5" cy="242.43" r="2.7" fill="#add8e6" fill-opacity="0.50"/>
<circle cx="96.5" cy="262.94" r="2.7" fill="#add8e6" fill-opacity="0.50"/>
<circle cx="96.5" cy="261.28" r="2.7" fill="#add8e6" fill-opacity="0.50"/>
<circle cx="96.5" cy="261.96" r="2.7" fill="#add8e6" fill-opacity="0.50"/>
<circle cx="96.5" cy="255.61" r="2.7" fill="#add8e6" fill-opacity="0.50"/>
<circle cx="96.5" cy="254.73" r="2.7" fill="#add8e6" fill-opacity="0.50"/>
<circle cx="96.5" cy="264.48" r="2.7" fill="#add8e6" fill-opacity="0.50"/>
<circle cx="96.5" cy="264.17" r="2.7" fill="#add8e6" fill-opacity="0.50"/>
<circle cx="107.5" cy="266.29" r="2.7" fill="#add8e6" fill-opacity="0.50"/>
<circle cx="107.5" cy="266.28" r="2.7" fill="#add8e6" fill-opacity="0.50"/>
<circle cx="107.5" cy="263.24" r="2.7" fill="#add8e6" fill-opacity="0.50"/>
<circle cx="107.5" cy="261.98" r="2.7" fill="#add8e6" fill-opacity="0.50"/>
<circle cx="107.5" cy="265.92" r="2.7" fill="#add8e6" fill-opacity="0.50"/>
<circle cx="107.5" cy="269.05" r="2.7" fill="#add8e6" fill-opacity="0.50"/>
<circle cx="107.5" cy="264.04" r="2.7" fill="#add8e6" fill-opacity="0.50"/>
<circle cx="118.5" cy="265.2" r="2.7" fill="#add8e6" fill-opacity="0.50"/>
<circle cx="118.5" cy="262.81" r="2.7" fill="#add8e6" fill-opacity="0.50"/>
<circle cx="118.5" cy="258.14" r="2.7" fill="#add8e6" fill-opacity="0.50"/>
<circle cx="118.5" cy="261.31" r="2.7" fill="#add8e6" fill-opacity="0.50"/>
<circle cx="118.5" cy="263.43" r="2.7" fill="#add8e6" fill-opacity="0.50"/>
<circle cx="118.5" cy="262.19" r="2.7" fill="#add8e6" fill-opacity="0.50"/>
<circle cx="118.5" cy="261.49" r="2.7" fill="#add8e6" fill-opacity="0.50"/>
<circle cx="129.5" cy="269.01" r="2.7" fill="#add8e6" fill-opacity="0.50"/>
<circle cx="129.5" cy="258.79" r="2.7" fill="#add8e6" fill-opacity="0.50"/>
<circle cx="129.5" cy="260.23" r="2.7" fill="#add8e6" fill-opacity="0.50"/>
<circle cx="129.5" cy="259.09" r="2.7" fill="#add8e6" fill-opacity="0.50"/>
<circle cx="129.5" cy="260.02" r="2.7" fill="#add8e6" fill-opacity="0.50"/>
<circle cx="129.5" cy="264.92" r="2.7" fill="#add8e6" fill-opacity="0.50"/>
<circle cx="129.5" cy="264.84" r="2.7" fill="#add8e6" fill-opacity="0.50"/>
<circle cx="140.5" cy="268.41" r="2.7" fill="#add8e6" fill-opacity="0.50"/>
<circle cx="140.5" cy="261.99" r="2.7" fill="#add8e6" fill-opacity="0.50"/>
<circle cx="140.5" cy="268.91" r="2.7" fill="#add8e6" fill-opacity="0.50"/>
<circle cx="140.5" cy="268.84" r="2.7" fill="#add8e6" fill-opacity="0.50"/>
<circle cx="140.5" cy="267.13" r="2.7" fill="#add8e6" fill-opacity="0.50"/>
<circle cx="140.5" cy="267.7" r="2.7" fill="#add8e6" fill-opacity="0.50"/>
<circle cx="140.5" cy="265.55" r="2.7" fill="#add8e6" fill-opacity="0.50"/>
<circle cx="151.5" cy="269.02" r="2.7" fill="#add8e6" fill-opacity="0.50"/>
<circle cx="151.5" cy="269.65" r="2.7" fill="#add8e6" fill-opacity="0.50"/>
<circle cx="151.5" cy="267.83" r="2.7" fill="#add8e6" fill-opacity="0.50"/>
<circle cx="151.5" cy="268.43" r="2.7" fill="#add8e6" fill-opacity="0.50"/>
<circle cx="151.5" cy="265.26" r="2.7" fill="#add8e6" fill-opacity="0.50"/>
<circle cx="151.5" cy="269.35" r="2.7" fill="#add8e6" fill-opacity="0.50"/>
<circle cx="151.5" cy="259.09" r="2.7" fill="#add8e6" fill-opacity="0.50"/>
<circle cx="162.5" cy="262.24" r="2.7" fill="#add8e6" fill-opacity="0.50"/>
<circle cx="162.5" cy="267.86" r="2.7" fill="#add8e6" fill-opacity="0.50"/>
<circle cx="162.5" cy="266.61" r="2.7" fill="#add8e6" fill-opacity="0.50"/>
<circle cx="162.5" cy="265.46" r="2.7" fill="#add8e6" fill-opacity="0.50"/>
<circle cx="162.5" cy="265.26" r="2.7" fill="#add8e6" fill-opacity="0.50"/>
<circle cx="162.5" cy="268.17" r="2.7" fill="#add8e6" fill-opacity="0.50"/>
<circle cx="162.5" cy="259.4" r="2.7" fill="#add8e6" fill-opacity="0.50"/>
<circle cx="53.6" cy="191.01" r="2.7" fill="#8db6ee" fill-opacity="0.50"/>
<circle cx="53.6" cy="192.07" r="2.7" fill="#8db6ee" fill-opacity="0.50"/>
<circle cx="53.6" cy="192.03" r="2.7" fill="#8db6ee" fill-opacity="0.50"/>
<circle cx="53.6" cy="192.83" r="2.7" fill="#8db6ee" fill-opacity="0.50"/>
<circle cx="53.6" cy="192.8" r="2.7" fill="#8db6ee" fill-opacity="0.50"/>
<circle cx="53.6" cy="192.32" r="2.7" fill="#8db6ee" fill-opacity="0.50"/>
<circle cx="53.6" cy="192.47" r="2.7" fill="#8db6ee" fill-opacity="0.50"/>
<circle cx="63.5" cy="192.91" r="2.7" fill="#8db6ee" fill-opacity="0.50"/>
<circle cx="63.5" cy="195.6" r="2.7" fill="#8db6ee" fill-opacity="0.50"/>
<circle cx="63.5" cy="196.16" r="2.7" fill="#8db6ee" fill-opacity="0.50"/>
<circle cx="63.5" cy="192.42" r="2.7" fill="#8db6ee" fill-opacity="0.50"/>
<circle cx="63.5" cy="194.12" r="2.7" fill="#8db6ee" fill-opacity="0.50"/>
<circle cx="63.5" cy="195.66" r="2.7" fill="#8db6ee" fill-opacity="0.50"/>
<circle cx="63.5" cy="194.06" r="2.7" fill="#8db6ee" fill-opacity="0.50"/>
<circle cx="69" cy="199.5" r="2.7" fill="#8db6ee" fill-opacity="0.50"/>
<circle cx="69" cy="197.48" r="2.7" fill="#8db6ee" fill-opacity="0.50"/>
<circle cx="69" cy="195.67" r="2.7" fill="#8db6ee" fill-opacity="0.50"/>
<circle cx="69" cy="196.13" r="2.7" fill="#8db6ee" fill-opacity="0.50"/>
<circle cx="69" cy="196.8" r="2.7" fill="#8db6ee" fill-opacity="0.50"/>
<circle cx="69" cy="198.56" r="2.7" fill="#8db6ee" fill-opacity="0.50"/>
<circle cx="69" cy="198.13" r="2.7" fill="#8db6ee" fill-opacity="0.50"/>
<circle cx="74.5" cy="205.65" r="2.7" fill="#8db6ee" fill-opacity="0.50"/>
<circle cx="74.5" cy="203.21" r="2.7" fill="#8db6ee" fill-opacity="0.50"/>
<circle cx="74.5" cy="204.18" r="2.7" fill="#8db6ee" fill-opacity="0.50"/>
<circle cx="74.5" cy="203.18" r="2.7" fill="#8db6ee" fill-opacity="0.50"/>
<circle cx="74.5" cy="204.99" r="2.7" fill="#8db6ee" fill-opacity="0.50"/>
<circle cx="74.5" cy="205.42" r="2.7" fill="#8db6ee" fill-opacity="0.50"/>
<circle cx="74.5" cy="203.05" r="2.7" fill="#8db6ee" fill-opacity="0.50"/>
<circle cx="85.5" cy="227.54" r="2.7" fill="#8db6ee" fill-opacity="0.50"/>
<circle cx="85.5" cy="229.14" r="2.7" fill="#8db6ee" fill-opacity="0.50"/>
<circle cx="85.5" cy="229.7" r="2.7" fill="#8db6ee" fill-opacity="0.50"/>
<circle cx="85.5" cy="229.55" r="2.7" fill="#8db6ee" fill-opacity="0.50"/>
<circle cx="85.5" cy="230.5" r="2.7" fill="#8db6ee" fill-opacity="0.50"/>
<circle cx="85.5" cy="236.7" r="2.7" fill="#8db6ee" fill-opacity="0.50"/>
<circle cx="85.5" cy="233.19" r="2.7" fill="#8db6ee" fill-opacity="0.50"/>
<circle cx="96.5" cy="255.29" r="2.7" fill="#8db6ee" fill-opacity="0.50"/>
<circle cx="96.5" cy="259.24" r="2.7" fill="#8db6ee" fill-opacity="0.50"/>
<circle cx="96.5" cy="259.25" r="2.7" fill="#8db6ee" fill-opacity="0.50"/>
<circle cx="96.5" cy="256.21" r="2.7" fill="#8db6ee" fill-opacity="0.50"/>
<circle cx="96.5" cy="256.45" r="2.7" fill="#8db6ee" fill-opacity="0.50"/>
<circle cx="96.5" cy="251.22" r="2.7" fill="#8db6ee" fill-opacity="0.50"/>
<circle cx="96.5" cy="248.03" r="2.7" fill="#8db6ee" fill-opacity="0.50"/>
<circle cx="107.5" cy="259.78" r="2.7" fill="#8db6ee" fill-opacity="0.50"/>
<circle cx="107.5" cy="253.86" r="2.7" fill="#8db6ee" fill-opacity="0.50"/>
<circle cx="107.5" cy="253.24" r="2.7" fill="#8db6ee" fill-opacity="0.50"/>
<circle cx="107.5" cy="253.64" r="2.7" fill="#8db6ee" fill-opacity="0.50"/>
<circle cx="107.5" cy="260.77" r="2.7" fill="#8db6ee" fill-opacity="0.50"/>
<circle cx="107.5" cy="262.52" r="2.7" fill="#8db6ee" fill-opacity="0.50"/>
<circle cx="107.5" cy="262.44" r="2.7" fill="#8db6ee" fill-opacity="0.50"/>
<circle cx="118.5" cy="265.04" r="2.7" fill="#8db6ee" fill-opacity="0.50"/>
<circle cx="118.5" cy="264.95" r="2.7" fill="#8db6ee" fill-opacity="0.50"/>
<circle cx="118.5" cy="259.88" r="2.7" fill="#8db6ee" fill-opacity="0.50"/>
<circle cx="118.5" cy="256.54" r="2.7" fill="#8db6ee" fill-opacity="0.50"/>
<circle cx="118.5" cy="257.26" r="2.7" fill="#8db6ee" fill-opacity="0.50"/>
<circle cx="118.5" cy="261.63" r="2.7" fill="#8db6ee" fill-opacity="0.50"/>
<circle cx="118.5" cy="259.53" r="2.7" fill="#8db6ee" fill-opacity="0.50"/>
<circle cx="129.5" cy="258.32" r="2.7" fill="#8db6ee" fill-opacity="0.50"/>
<circle cx="129.5" cy="266.95" r="2.7" fill="#8db6ee" fill-opacity="0.50"/>
<circle cx="129.5" cy="260" r="2.7" fill="#8db6ee" fill-opacity="0.50"/>
<circle cx="129.5" cy="256.98" r="2.7" fill="#8db6ee" fill-opacity="0.50"/>
<circle cx="129.5" cy="258.52" r="2.7" fill="#8db6ee" fill-opacity="0.50"/>
<circle cx="129.5" cy="258.91" r="2.7" fill="#8db6ee" fill-opacity="0.50"/>
<circle cx="129.5" cy="262.2" r="2.7" fill="#8db6ee" fill-opacity="0.50"/>
<circle cx="140.5" cy="266.38" r="2.7" fill="#8db6ee" fill-opacity="0.50"/>
<circle cx="140.5" cy="259" r="2.7" fill="#8db6ee" fill-opacity="0.50"/>
<circle cx="140.5" cy="264.52" r="2.7" fill="#8db6ee" fill-opacity="0.50"/>
<circle cx="140.5" cy="258.86" r="2.7" fill="#8db6ee" fill-opacity="0.50"/>
<circle cx="140.5" cy="256.8" r="2.7" fill="#8db6ee" fill-opacity="0.50"/>
<circle cx="140.5" cy="263.75" r="2.7" fill="#8db6ee" fill-opacity="0.50"/>
<circle cx="140.5" cy="263.69" r="2.7" fill="#8db6ee" fill-opacity="0.50"/>
<circle cx="151.5" cy="257.1" r="2.7" fill="#8db6ee" fill-opacity="0.50"/>
<circle cx="151.5" cy="259.78" r="2.7" fill="#8db6ee" fill-opacity="0.50"/>
<circle cx="151.5" cy="266.48" r="2.7" fill="#8db6ee" fill-opacity="0.50"/>
<circle cx="151.5" cy="267" r="2.7" fill="#8db6ee" fill-opacity="0.50"/>
<circle cx="151.5" cy="266.71" r="2.7" fill="#8db6ee" fill-opacity="0.50"/>
<circle cx="151.5" cy="257.6" r="2.7" fill="#8db6ee" fill-opacity="0.50"/>
<circle cx="151.5" cy="258.79" r="2.7" fill="#8db6ee" fill-opacity="0.50"/>
<circle cx="162.5" cy="266.21" r="2.7" fill="#8db6ee" fill-opacity="0.50"/>
<circle cx="162.5" cy="257.99" r="2.7" fill="#8db6ee" fill-opacity="0.50"/>
<circle cx="162.5" cy="256.13" r="2.7" fill="#8db6ee" fill-opacity="0.50"/>
<circle cx="162.5" cy="260.04" r="2.7" fill="#8db6ee" fill-opacity="0.50"/>
<circle cx="162.5" cy="263.74" r="2.7" fill="#8db6ee" fill-opacity="0.50"/>
<circle cx="162.5" cy="261.35" r="2.7" fill="#8db6ee" fill-opacity="0.50"/>
<circle cx="162.5" cy="266.4" r="2.7" fill="#8db6ee" fill-opacity="0.50"/>
<circle cx="53.6" cy="192.42" r="2.7" fill="#7a86ee" fill-opacity="0.45"/>
<circle cx="53.6" cy="190.49" r="2.7" fill="#7a86ee" fill-opacity="0.45"/>
<circle cx="53.6" cy="191.14" r="2.7" fill="#7a86ee" fill-opacity="0.45"/>
<circle cx="53.6" cy="191.39" r="2.7" fill="#7a86ee" fill-opacity="0.45"/>
<circle cx="53.6" cy="190.57" r="2.7" fill="#7a86ee" fill-opacity="0.45"/>
<circle cx="53.6" cy="191.57" r="2.7" fill="#7a86ee" fill-opacity="0.45"/>
<circle cx="53.6" cy="190.69" r="2.7" fill="#7a86ee" fill-opacity="0.45"/>
<circle cx="63.5" cy="192.36" r="2.7" fill="#7a86ee" fill-opacity="0.45"/>
<circle cx="63.5" cy="194.84" r="2.7" fill="#7a86ee" fill-opacity="0.45"/>
<circle cx="63.5" cy="194.68" r="2.7" fill="#7a86ee" fill-opacity="0.45"/>
<circle cx="63.5" cy="194.51" r="2.7" fill="#7a86ee" fill-opacity="0.45"/>
<circle cx="63.5" cy="194.72" r="2.7" fill="#7a86ee" fill-opacity="0.45"/>
<circle cx="63.5" cy="193.33" r="2.7" fill="#7a86ee" fill-opacity="0.45"/>
<circle cx="63.5" cy="194.65" r="2.7" fill="#7a86ee" fill-opacity="0.45"/>
<circle cx="69" cy="197.92" r="2.7" fill="#7a86ee" fill-opacity="0.45"/>
<circle cx="69" cy="199.08" r="2.7" fill="#7a86ee" fill-opacity="0.45"/>
<circle cx="69" cy="195.94" r="2.7" fill="#7a86ee" fill-opacity="0.45"/>
<circle cx="69" cy="198.18" r="2.7" fill="#7a86ee" fill-opacity="0.45"/>
<circle cx="69" cy="197.76" r="2.7" fill="#7a86ee" fill-opacity="0.45"/>
<circle cx="69" cy="197.26" r="2.7" fill="#7a86ee" fill-opacity="0.45"/>
<circle cx="69" cy="195.97" r="2.7" fill="#7a86ee" fill-opacity="0.45"/>
<circle cx="74.5" cy="203.51" r="2.7" fill="#7a86ee" fill-opacity="0.45"/>
<circle cx="74.5" cy="201.51" r="2.7" fill="#7a86ee" fill-opacity="0.45"/>
<circle cx="74.5" cy="203.18" r="2.7" fill="#7a86ee" fill-opacity="0.45"/>
<circle cx="74.5" cy="203.06" r="2.7" fill="#7a86ee" fill-opacity="0.45"/>
<circle cx="74.5" cy="203.09" r="2.7" fill="#7a86ee" fill-opacity="0.45"/>
<circle cx="74.5" cy="205.13" r="2.7" fill="#7a86ee" fill-opacity="0.45"/>
<circle cx="74.5" cy="203.43" r="2.7" fill="#7a86ee" fill-opacity="0.45"/>
<circle cx="85.5" cy="219.33" r="2.7" fill="#7a86ee" fill-opacity="0.45"/>
<circle cx="85.5" cy="221.49" r="2.7" fill="#7a86ee" fill-opacity="0.45"/>
<circle cx="85.5" cy="211.88" r="2.7" fill="#7a86ee" fill-opacity="0.45"/>
<circle cx="85.5" cy="219.46" r="2.7" fill="#7a86ee" fill-opacity="0.45"/>
<circle cx="85.5" cy="215.82" r="2.7" fill="#7a86ee" fill-opacity="0.45"/>
<circle cx="85.5" cy="212.78" r="2.7" fill="#7a86ee" fill-opacity="0.45"/>
<circle cx="85.5" cy="214.82" r="2.7" fill="#7a86ee" fill-opacity="0.45"/>
<circle cx="96.5" cy="226.55" r="2.7" fill="#7a86ee" fill-opacity="0.45"/>
<circle cx="96.5" cy="224.23" r="2.7" fill="#7a86ee" fill-opacity="0.45"/>
<circle cx="96.5" cy="223.78" r="2.7" fill="#7a86ee" fill-opacity="0.45"/>
<circle cx="107.5" cy="235.56" r="2.7" fill="#7a86ee" fill-opacity="0.45"/>
<circle cx="107.5" cy="243.76" r="2.7" fill="#7a86ee" fill-opacity="0.45"/>
<circle cx="107.5" cy="238.27" r="2.7" fill="#7a86ee" fill-opacity="0.45"/>
<circle cx="118.5" cy="250.99" r="2.7" fill="#7a86ee" fill-opacity="0.45"/>
<circle cx="118.5" cy="250.65" r="2.7" fill="#7a86ee" fill-opacity="0.45"/>
<circle cx="118.5" cy="244.66" r="2.7" fill="#7a86ee" fill-opacity="0.45"/>
<circle cx="129.5" cy="255.69" r="2.7" fill="#7a86ee" fill-opacity="0.45"/>
<circle cx="129.5" cy="255.04" r="2.7" fill="#7a86ee" fill-opacity="0.45"/>
<circle cx="129.5" cy="252.64" r="2.7" fill="#7a86ee" fill-opacity="0.45"/>
<circle cx="140.5" cy="253.59" r="2.7" fill="#7a86ee" fill-opacity="0.45"/>
<circle cx="140.5" cy="259.27" r="2.7" fill="#7a86ee" fill-opacity="0.45"/>
<circle cx="140.5" cy="257.22" r="2.7" fill="#7a86ee" fill-opacity="0.45"/>
<circle cx="151.5" cy="259.07" r="2.7" fill="#7a86ee" fill-opacity="0.45"/>
<circle cx="151.5" cy="258.99" r="2.7" fill="#7a86ee" fill-opacity="0.45"/>
<circle cx="151.5" cy="256.81" r="2.7" fill="#7a86ee" fill-opacity="0.45"/>
<circle cx="151.5" cy="259.71" r="2.7" fill="#7a86ee" fill-opacity="0.45"/>
<circle cx="151.5" cy="258.74" r="2.7" fill="#7a86ee" fill-opacity="0.45"/>
<circle cx="151.5" cy="259.4" r="2.7" fill="#7a86ee" fill-opacity="0.45"/>
<circle cx="151.5" cy="253.8" r="2.7" fill="#7a86ee" fill-opacity="0.45"/>
<circle cx="162.5" cy="256.73" r="2.7" fill="#7a86ee" fill-opacity="0.45"/>
<circle cx="162.5" cy="254.59" r="2.7" fill="#7a86ee" fill-opacity="0.45"/>
<circle cx="162.5" cy="253.8" r="2.7" fill="#7a86ee" fill-opacity="0.45"/>
<circle cx="162.5" cy="262.04" r="2.7" fill="#7a86ee" fill-opacity="0.45"/>
<circle cx="162.5" cy="258.42" r="2.7" fill="#7a86ee" fill-opacity="0.45"/>
<circle cx="162.5" cy="253.78" r="2.7" fill="#7a86ee" fill-opacity="0.45"/>
<circle cx="162.5" cy="255.03" r="2.7" fill="#7a86ee" fill-opacity="0.45"/>
<circle cx="53.6" cy="192.17" r="2.7" fill="#6a5cee" fill-opacity="0.35"/>
<circle cx="53.6" cy="192.2" r="2.7" fill="#6a5cee" fill-opacity="0.35"/>
<circle cx="53.6" cy="191.56" r="2.7" fill="#6a5cee" fill-opacity="0.35"/>
<circle cx="53.6" cy="192.3" r="2.7" fill="#6a5cee" fill-opacity="0.35"/>
<circle cx="53.6" cy="191.96" r="2.7" fill="#6a5cee" fill-opacity="0.35"/>
<circle cx="53.6" cy="192.3" r="2.7" fill="#6a5cee" fill-opacity="0.35"/>
<circle cx="53.6" cy="191.1" r="2.7" fill="#6a5cee" fill-opacity="0.35"/>
<circle cx="63.5" cy="192.53" r="2.7" fill="#6a5cee" fill-opacity="0.35"/>
<circle cx="63.5" cy="192.08" r="2.7" fill="#6a5cee" fill-opacity="0.35"/>
<circle cx="63.5" cy="195.07" r="2.7" fill="#6a5cee" fill-opacity="0.35"/>
<circle cx="63.5" cy="192.81" r="2.7" fill="#6a5cee" fill-opacity="0.35"/>
<circle cx="63.5" cy="193.03" r="2.7" fill="#6a5cee" fill-opacity="0.35"/>
<circle cx="63.5" cy="195.12" r="2.7" fill="#6a5cee" fill-opacity="0.35"/>
<circle cx="63.5" cy="192.14" r="2.7" fill="#6a5cee" fill-opacity="0.35"/>
<circle cx="69" cy="195.71" r="2.7" fill="#6a5cee" fill-opacity="0.35"/>
<circle cx="69" cy="198.72" r="2.7" fill="#6a5cee" fill-opacity="0.35"/>
<circle cx="69" cy="195.77" r="2.7" fill="#6a5cee" fill-opacity="0.35"/>
<circle cx="69" cy="198" r="2.7" fill="#6a5cee" fill-opacity="0.35"/>
<circle cx="69" cy="197.65" r="2.7" fill="#6a5cee" fill-opacity="0.35"/>
<circle cx="69" cy="195.62" r="2.7" fill="#6a5cee" fill-opacity="0.35"/>
<circle cx="69" cy="196.25" r="2.7" fill="#6a5cee" fill-opacity="0.35"/>
<circle cx="74.5" cy="203.99" r="2.7" fill="#6a5cee" fill-opacity="0.35"/>
<circle cx="74.5" cy="202.91" r="2.7" fill="#6a5cee" fill-opacity="0.35"/>
<circle cx="74.5" cy="202.57" r="2.7" fill="#6a5cee" fill-opacity="0.35"/>
<circle cx="74.5" cy="203.28" r="2.7" fill="#6a5cee" fill-opacity="0.35"/>
<circle cx="74.5" cy="203.86" r="2.7" fill="#6a5cee" fill-opacity="0.35"/>
<circle cx="74.5" cy="203.36" r="2.7" fill="#6a5cee" fill-opacity="0.35"/>
<circle cx="74.5" cy="201.73" r="2.7" fill="#6a5cee" fill-opacity="0.35"/>
<circle cx="85.5" cy="218.51" r="2.7" fill="#6a5cee" fill-opacity="0.35"/>
<circle cx="85.5" cy="212.05" r="2.7" fill="#6a5cee" fill-opacity="0.35"/>
<circle cx="85.5" cy="213.42" r="2.7" fill="#6a5cee" fill-opacity="0.35"/>
<circle cx="85.5" cy="218.52" r="2.7" fill="#6a5cee" fill-opacity="0.35"/>
<circle cx="85.5" cy="214.74" r="2.7" fill="#6a5cee" fill-opacity="0.35"/>
<circle cx="85.5" cy="211.2" r="2.7" fill="#6a5cee" fill-opacity="0.35"/>
<circle cx="85.5" cy="212.55" r="2.7" fill="#6a5cee" fill-opacity="0.35"/>
<circle cx="96.5" cy="225.24" r="2.7" fill="#6a5cee" fill-opacity="0.35"/>
<circle cx="96.5" cy="214.11" r="2.7" fill="#6a5cee" fill-opacity="0.35"/>
<circle cx="96.5" cy="216.49" r="2.7" fill="#6a5cee" fill-opacity="0.35"/>
<circle cx="107.5" cy="219.87" r="2.7" fill="#6a5cee" fill-opacity="0.35"/>
<circle cx="107.5" cy="230.35" r="2.7" fill="#6a5cee" fill-opacity="0.35"/>
<circle cx="107.5" cy="228.4" r="2.7" fill="#6a5cee" fill-opacity="0.35"/>
<circle cx="118.5" cy="238.97" r="2.7" fill="#6a5cee" fill-opacity="0.35"/>
<circle cx="118.5" cy="230.03" r="2.7" fill="#6a5cee" fill-opacity="0.35"/>
<circle cx="118.5" cy="236.18" r="2.7" fill="#6a5cee" fill-opacity="0.35"/>
<circle cx="129.5" cy="250.19" r="2.7" fill="#6a5cee" fill-opacity="0.35"/>
<circle cx="129.5" cy="246.65" r="2.7" fill="#6a5cee" fill-opacity="0.35"/>
<circle cx="129.5" cy="240.74" r="2.7" fill="#6a5cee" fill-opacity="0.35"/>
<circle cx="140.5" cy="252.49" r="2.7" fill="#6a5cee" fill-opacity="0.35"/>
<circle cx="140.5" cy="259.26" r="2.7" fill="#6a5cee" fill-opacity="0.35"/>
<circle cx="140.5" cy="260.58" r="2.7" fill="#6a5cee" fill-opacity="0.35"/>
<circle cx="151.5" cy="253.29" r="2.7" fill="#6a5cee" fill-opacity="0.35"/>
<circle cx="151.5" cy="257.5" r="2.7" fill="#6a5cee" fill-opacity="0.35"/>
<circle cx="151.5" cy="255.93" r="2.7" fill="#6a5cee" fill-opacity="0.35"/>
<circle cx="151.5" cy="263.32" r="2.7" fill="#6a5cee" fill-opacity="0.35"/>
<circle cx="151.5" cy="263.7" r="2.7" fill="#6a5cee" fill-opacity="0.35"/>
<circle cx="151.5" cy="256.08" r="2.7" fill="#6a5cee" fill-opacity="0.35"/>
<circle cx="151.5" cy="259.26" r="2.7" fill="#6a5cee" fill-opacity="0.35"/>
<circle cx="162.5" cy="262.4" r="2.7" fill="#6a5cee" fill-opacity="0.35"/>
<circle cx="162.5" cy="251.94" r="2.7" fill="#6a5cee" fill-opacity="0.35"/>
<circle cx="162.5" cy="255.61" r="2.7" fill="#6a5cee" fill-opacity="0.35"/>
<circle cx="162.5" cy="253.59" r="2.7" fill="#6a5cee" fill-opacity="0.35"/>
<circle cx="162.5" cy="262.27" r="2.7" fill="#6a5cee" fill-opacity="0.35"/>
<circle cx="162.5" cy="252.93" r="2.7" fill="#6a5cee" fill-opacity="0.35"/>
<circle cx="162.5" cy="262.47" r="2.7" fill="#6a5cee" fill-opacity="0.35"/>
<circle cx="53.6" cy="190.71" r="2.7" fill="#8a2be2" fill-opacity="0.50"/>
<circle cx="53.6" cy="191.53" r="2.7" fill="#8a2be2" fill-opacity="0.50"/>
<circle cx="53.6" cy="191.76" r="2.7" fill="#8a2be2" fill-opacity="0.50"/>
<circle cx="53.6" cy="191.33" r="2.7" fill="#8a2be2" fill-opacity="0.50"/>
<circle cx="53.6" cy="190.58" r="2.7" fill="#8a2be2" fill-opacity="0.50"/>
<circle cx="53.6" cy="191.91" r="2.7" fill="#8a2be2" fill-opacity="0.50"/>
<circle cx="53.6" cy="192.19" r="2.7" fill="#8a2be2" fill-opacity="0.50"/>
<circle cx="63.5" cy="193.46" r="2.7" fill="#8a2be2" fill-opacity="0.50"/>
<circle cx="63.5" cy="194.62" r="2.7" fill="#8a2be2" fill-opacity="0.50"/>
<circle cx="63.5" cy="195.14" r="2.7" fill="#8a2be2" fill-opacity="0.50"/>
<circle cx="63.5" cy="194.93" r="2.7" fill="#8a2be2" fill-opacity="0.50"/>
<circle cx="63.5" cy="195.38" r="2.7" fill="#8a2be2" fill-opacity="0.50"/>
<circle cx="63.5" cy="194.77" r="2.7" fill="#8a2be2" fill-opacity="0.50"/>
<circle cx="63.5" cy="194.32" r="2.7" fill="#8a2be2" fill-opacity="0.50"/>
<circle cx="69" cy="198.83" r="2.7" fill="#8a2be2" fill-opacity="0.50"/>
<circle cx="69" cy="197" r="2.7" fill="#8a2be2" fill-opacity="0.50"/>
<circle cx="69" cy="198.89" r="2.7" fill="#8a2be2" fill-opacity="0.50"/>
<circle cx="69" cy="198.04" r="2.7" fill="#8a2be2" fill-opacity="0.50"/>
<circle cx="69" cy="199.34" r="2.7" fill="#8a2be2" fill-opacity="0.50"/>
<circle cx="69" cy="198.66" r="2.7" fill="#8a2be2" fill-opacity="0.50"/>
<circle cx="69" cy="199.98" r="2.7" fill="#8a2be2" fill-opacity="0.50"/>
<circle cx="74.5" cy="203.86" r="2.7" fill="#8a2be2" fill-opacity="0.50"/>
<circle cx="74.5" cy="204.81" r="2.7" fill="#8a2be2" fill-opacity="0.50"/>
<circle cx="74.5" cy="201.91" r="2.7" fill="#8a2be2" fill-opacity="0.50"/>
<circle cx="74.5" cy="202.65" r="2.7" fill="#8a2be2" fill-opacity="0.50"/>
<circle cx="74.5" cy="204.1" r="2.7" fill="#8a2be2" fill-opacity="0.50"/>
<circle cx="74.5" cy="202.95" r="2.7" fill="#8a2be2" fill-opacity="0.50"/>
<circle cx="74.5" cy="201.1" r="2.7" fill="#8a2be2" fill-opacity="0.50"/>
<circle cx="85.5" cy="217.16" r="2.7" fill="#8a2be2" fill-opacity="0.50"/>
<circle cx="85.5" cy="208.07" r="2.7" fill="#8a2be2" fill-opacity="0.50"/>
<circle cx="85.5" cy="213.01" r="2.7" fill="#8a2be2" fill-opacity="0.50"/>
<circle cx="85.5" cy="212.2" r="2.7" fill="#8a2be2" fill-opacity="0.50"/>
<circle cx="85.5" cy="207.87" r="2.7" fill="#8a2be2" fill-opacity="0.50"/>
<circle cx="85.5" cy="213.5" r="2.7" fill="#8a2be2" fill-opacity="0.50"/>
<circle cx="85.5" cy="212.06" r="2.7" fill="#8a2be2" fill-opacity="0.50"/>
<circle cx="96.5" cy="215.9" r="2.7" fill="#8a2be2" fill-opacity="0.50"/>
<circle cx="96.5" cy="212.14" r="2.7" fill="#8a2be2" fill-opacity="0.50"/>
<circle cx="96.5" cy="220.3" r="2.7" fill="#8a2be2" fill-opacity="0.50"/>
<circle cx="96.5" cy="214.06" r="2.7" fill="#8a2be2" fill-opacity="0.50"/>
<circle cx="96.5" cy="215.66" r="2.7" fill="#8a2be2" fill-opacity="0.50"/>
<circle cx="96.5" cy="216.56" r="2.7" fill="#8a2be2" fill-opacity="0.50"/>
<circle cx="96.5" cy="219.51" r="2.7" fill="#8a2be2" fill-opacity="0.50"/>
<circle cx="107.5" cy="225.84" r="2.7" fill="#8a2be2" fill-opacity="0.50"/>
<circle cx="107.5" cy="229.57" r="2.7" fill="#8a2be2" fill-opacity="0.50"/>
<circle cx="107.5" cy="228.61" r="2.7" fill="#8a2be2" fill-opacity="0.50"/>
<circle cx="107.5" cy="229.37" r="2.7" fill="#8a2be2" fill-opacity="0.50"/>
<circle cx="107.5" cy="220.82" r="2.7" fill="#8a2be2" fill-opacity="0.50"/>
<circle cx="107.5" cy="227.01" r="2.7" fill="#8a2be2" fill-opacity="0.50"/>
<circle cx="107.5" cy="228.19" r="2.7" fill="#8a2be2" fill-opacity="0.50"/>
<circle cx="118.5" cy="234.23" r="2.7" fill="#8a2be2" fill-opacity="0.50"/>
<circle cx="118.5" cy="224.57" r="2.7" fill="#8a2be2" fill-opacity="0.50"/>
<circle cx="118.5" cy="224.2" r="2.7" fill="#8a2be2" fill-opacity="0.50"/>
<circle cx="118.5" cy="226.75" r="2.7" fill="#8a2be2" fill-opacity="0.50"/>
<circle cx="118.5" cy="231.71" r="2.7" fill="#8a2be2" fill-opacity="0.50"/>
<circle cx="118.5" cy="232.21" r="2.7" fill="#8a2be2" fill-opacity="0.50"/>
<circle cx="118.5" cy="231.57" r="2.7" fill="#8a2be2" fill-opacity="0.50"/>
<circle cx="129.5" cy="234.48" r="2.7" fill="#8a2be2" fill-opacity="0.50"/>
<circle cx="129.5" cy="238.33" r="2.7" fill="#8a2be2" fill-opacity="0.50"/>
<circle cx="129.5" cy="234.65" r="2.7" fill="#8a2be2" fill-opacity="0.50"/>
<circle cx="129.5" cy="236.98" r="2.7" fill="#8a2be2" fill-opacity="0.50"/>
<circle cx="129.5" cy="228.07" r="2.7" fill="#8a2be2" fill-opacity="0.50"/>
<circle cx="129.5" cy="227.93" r="2.7" fill="#8a2be2" fill-opacity="0.50"/>
<circle cx="129.5" cy="233.36" r="2.7" fill="#8a2be2" fill-opacity="0.50"/>
<circle cx="140.5" cy="241.7" r="2.7" fill="#8a2be2" fill-opacity="0.50"/>
<circle cx="140.5" cy="232.5" r="2.7" fill="#8a2be2" fill-opacity="0.50"/>
<circle cx="140.5" cy="240.87" r="2.7" fill="#8a2be2" fill-opacity="0.50"/>
<circle cx="140.5" cy="240.27" r="2.7" fill="#8a2be2" fill-opacity="0.50"/>
<circle cx="140.5" cy="244.8" r="2.7" fill="#8a2be2" fill-opacity="0.50"/>
<circle cx="140.5" cy="239.95" r="2.7" fill="#8a2be2" fill-opacity="0.50"/>
<circle cx="140.5" cy="238.76" r="2.7" fill="#8a2be2" fill-opacity="0.50"/>
<circle cx="151.5" cy="242.88" r="2.7" fill="#8a2be2" fill-opacity="0.50"/>
<circle cx="151.5" cy="246.73" r="2.7" fill="#8a2be2" fill-opacity="0.50"/>
<circle cx="151.5" cy="242.85" r="2.7" fill="#8a2be2" fill-opacity="0.50"/>
<circle cx="151.5" cy="249.23" r="2.7" fill="#8a2be2" fill-opacity="0.50"/>
<circle cx="151.5" cy="245.92" r="2.7" fill="#8a2be2" fill-opacity="0.50"/>
<circle cx="151.5" cy="248.15" r="2.7" fill="#8a2be2" fill-opacity="0.50"/>
<circle cx="151.5" cy="244.2" r="2.7" fill="#8a2be2" fill-opacity="0.50"/>
<circle cx="162.5" cy="253.24" r="2.7" fill="#8a2be2" fill-opacity="0.50"/>
<circle cx="162.5" cy="253.48" r="2.7" fill="#8a2be2" fill-opacity="0.50"/>
<circle cx="162.5" cy="249.89" r="2.7" fill="#8a2be2" fill-opacity="0.50"/>
<circle cx="162.5" cy="250.8" r="2.7" fill="#8a2be2" fill-opacity="0.50"/>
<circle cx="162.5" cy="246.3" r="2.7" fill="#8a2be2" fill-opacity="0.50"/>
<circle cx="162.5" cy="247.02" r="2.7" fill="#8a2be2" fill-opacity="0.50"/>
<circle cx="162.5" cy="244.19" r="2.7" fill="#8a2be2" fill-opacity="0.50"/>
<circle cx="53.6" cy="191.12" r="2.7" fill="#8b008b" fill-opacity="0.50"/>
<circle cx="53.6" cy="191" r="2.7" fill="#8b008b" fill-opacity="0.50"/>
<circle cx="53.6" cy="190.68" r="2.7" fill="#8b008b" fill-opacity="0.50"/>
<circle cx="53.6" cy="191.66" r="2.7" fill="#8b008b" fill-opacity="0.50"/>
<circle cx="53.6" cy="191.79" r="2.7" fill="#8b008b" fill-opacity="0.50"/>
<circle cx="53.6" cy="190.46" r="2.7" fill="#8b008b" fill-opacity="0.50"/>
<circle cx="53.6" cy="192.15" r="2.7" fill="#8b008b" fill-opacity="0.50"/>
<circle cx="63.5" cy="192.55" r="2.7" fill="#8b008b" fill-opacity="0.50"/>
<circle cx="63.5" cy="192.88" r="2.7" fill="#8b008b" fill-opacity="0.50"/>
<circle cx="63.5" cy="195.29" r="2.7" fill="#8b008b" fill-opacity="0.50"/>
<circle cx="63.5" cy="192.1" r="2.7" fill="#8b008b" fill-opacity="0.50"/>
<circle cx="63.5" cy="191.87" r="2.7" fill="#8b008b" fill-opacity="0.50"/>
<circle cx="63.5" cy="192.94" r="2.7" fill="#8b008b" fill-opacity="0.50"/>
<circle cx="63.5" cy="192.51" r="2.7" fill="#8b008b" fill-opacity="0.50"/>
<circle cx="69" cy="196.78" r="2.7" fill="#8b008b" fill-opacity="0.50"/>
<circle cx="69" cy="199.49" r="2.7" fill="#8b008b" fill-opacity="0.50"/>
<circle cx="69" cy="197.95" r="2.7" fill="#8b008b" fill-opacity="0.50"/>
<circle cx="69" cy="198.02" r="2.7" fill="#8b008b" fill-opacity="0.50"/>
<circle cx="69" cy="196.69" r="2.7" fill="#8b008b" fill-opacity="0.50"/>
<circle cx="69" cy="196.81" r="2.7" fill="#8b008b" fill-opacity="0.50"/>
<circle cx="69" cy="196.73" r="2.7" fill="#8b008b" fill-opacity="0.50"/>
<circle cx="74.5" cy="202.4" r="2.7" fill="#8b008b" fill-opacity="0.50"/>
<circle cx="74.5" cy="201.16" r="2.7" fill="#8b008b" fill-opacity="0.50"/>
<circle cx="74.5" cy="202" r="2.7" fill="#8b008b" fill-opacity="0.50"/>
<circle cx="74.5" cy="201.96" r="2.7" fill="#8b008b" fill-opacity="0.50"/>
<circle cx="74.5" cy="203.83" r="2.7" fill="#8b008b" fill-opacity="0.50"/>
<circle cx="74.5" cy="204.63" r="2.7" fill="#8b008b" fill-opacity="0.50"/>
<circle cx="74.5" cy="204.22" r="2.7" fill="#8b008b" fill-opacity="0.50"/>
<circle cx="85.5" cy="213.69" r="2.7" fill="#8b008b" fill-opacity="0.50"/>
<circle cx="85.5" cy="216.96" r="2.7" fill="#8b008b" fill-opacity="0.50"/>
<circle cx="85.5" cy="207.63" r="2.7" fill="#8b008b" fill-opacity="0.50"/>
<circle cx="85.5" cy="211.17" r="2.7" fill="#8b008b" fill-opacity="0.50"/>
<circle cx="85.5" cy="210.29" r="2.7" fill="#8b008b" fill-opacity="0.50"/>
<circle cx="85.5" cy="210.31" r="2.7" fill="#8b008b" fill-opacity="0.50"/>
<circle cx="85.5" cy="209.61" r="2.7" fill="#8b008b" fill-opacity="0.50"/>
<circle cx="96.5" cy="218.43" r="2.7" fill="#8b008b" fill-opacity="0.50"/>
<circle cx="96.5" cy="224.63" r="2.7" fill="#8b008b" fill-opacity="0.50"/>
<circle cx="96.5" cy="214.5" r="2.7" fill="#8b008b" fill-opacity="0.50"/>
<circle cx="96.5" cy="215.13" r="2.7" fill="#8b008b" fill-opacity="0.50"/>
<circle cx="96.5" cy="218.26" r="2.7" fill="#8b008b" fill-opacity="0.50"/>
<circle cx="96.5" cy="217.85" r="2.7" fill="#8b008b" fill-opacity="0.50"/>
<circle cx="96.5" cy="216.26" r="2.7" fill="#8b008b" fill-opacity="0.50"/>
<circle cx="107.5" cy="229.65" r="2.7" fill="#8b008b" fill-opacity="0.50"/>
<circle cx="107.5" cy="221.09" r="2.7" fill="#8b008b" fill-opacity="0.50"/>
<circle cx="107.5" cy="227.28" r="2.7" fill="#8b008b" fill-opacity="0.50"/>
<circle cx="107.5" cy="229.54" r="2.7" fill="#8b008b" fill-opacity="0.50"/>
<circle cx="107.5" cy="227.1" r="2.7" fill="#8b008b" fill-opacity="0.50"/>
<circle cx="107.5" cy="221.19" r="2.7" fill="#8b008b" fill-opacity="0.50"/>
<circle cx="107.5" cy="227.87" r="2.7" fill="#8b008b" fill-opacity="0.50"/>
<circle cx="118.5" cy="226.09" r="2.7" fill="#8b008b" fill-opacity="0.50"/>
<circle cx="118.5" cy="223.08" r="2.7" fill="#8b008b" fill-opacity="0.50"/>
<circle cx="118.5" cy="229.23" r="2.7" fill="#8b008b" fill-opacity="0.50"/>
<circle cx="118.5" cy="230.65" r="2.7" fill="#8b008b" fill-opacity="0.50"/>
<circle cx="118.5" cy="229.42" r="2.7" fill="#8b008b" fill-opacity="0.50"/>
<circle cx="118.5" cy="226.81" r="2.7" fill="#8b008b" fill-opacity="0.50"/>
<circle cx="118.5" cy="225.74" r="2.7" fill="#8b008b" fill-opacity="0.50"/>
<circle cx="129.5" cy="232.69" r="2.7" fill="#8b008b" fill-opacity="0.50"/>
<circle cx="129.5" cy="232.36" r="2.7" fill="#8b008b" fill-opacity="0.50"/>
<circle cx="129.5" cy="239.58" r="2.7" fill="#8b008b" fill-opacity="0.50"/>
<circle cx="129.5" cy="238.68" r="2.7" fill="#8b008b" fill-opacity="0.50"/>
<circle cx="129.5" cy="237.32" r="2.7" fill="#8b008b" fill-opacity="0.50"/>
<circle cx="129.5" cy="231.08" r="2.7" fill="#8b008b" fill-opacity="0.50"/>
<circle cx="129.5" cy="236.68" r="2.7" fill="#8b008b" fill-opacity="0.50"/>
<circle cx="140.5" cy="237.46" r="2.7" fill="#8b008b" fill-opacity="0.50"/>
<circle cx="140.5" cy="244.54" r="2.7" fill="#8b008b" fill-opacity="0.50"/>
<circle cx="140.5" cy="243.93" r="2.7" fill="#8b008b" fill-opacity="0.50"/>
<circle cx="140.5" cy="241.28" r="2.7" fill="#8b008b" fill-opacity="0.50"/>
<circle cx="140.5" cy="236.13" r="2.7" fill="#8b008b" fill-opacity="0.50"/>
<circle cx="140.5" cy="235.87" r="2.7" fill="#8b008b" fill-opacity="0.50"/>
<circle cx="140.5" cy="236.08" r="2.7" fill="#8b008b" fill-opacity="0.50"/>
<circle cx="151.5" cy="245.47" r="2.7" fill="#8b008b" fill-opacity="0.50"/>
<circle cx="151.5" cy="242.59" r="2.7" fill="#8b008b" fill-opacity="0.50"/>
<circle cx="151.5" cy="243.25" r="2.7" fill="#8b008b" fill-opacity="0.50"/>
<circle cx="151.5" cy="243.23" r="2.7" fill="#8b008b" fill-opacity="0.50"/>
<circle cx="151.5" cy="247.67" r="2.7" fill="#8b008b" fill-opacity="0.50"/>
<circle cx="151.5" cy="237.78" r="2.7" fill="#8b008b" fill-opacity="0.50"/>
<circle cx="151.5" cy="246.64" r="2.7" fill="#8b008b" fill-opacity="0.50"/>
<circle cx="162.5" cy="241.18" r="2.7" fill="#8b008b" fill-opacity="0.50"/>
<circle cx="162.5" cy="241.71" r="2.7" fill="#8b008b" fill-opacity="0.50"/>
<circle cx="162.5" cy="253.43" r="2.7" fill="#8b008b" fill-opacity="0.50"/>
<circle cx="162.5" cy="247.8" r="2.7" fill="#8b008b" fill-opacity="0.50"/>
<circle cx="162.5" cy="243.2" r="2.7" fill="#8b008b" fill-opacity="0.50"/>
<circle cx="162.5" cy="241.31" r="2.7" fill="#8b008b" fill-opacity="0.50"/>
<circle cx="162.5" cy="247.92" r="2.7" fill="#8b008b" fill-opacity="0.50"/>
<circle cx="53.6" cy="191.91" r="2.7" fill="#000000" fill-opacity="0.60"/>
<circle cx="53.6" cy="192.02" r="2.7" fill="#000000" fill-opacity="0.60"/>
<circle cx="53.6" cy="190.54" r="2.7" fill="#000000" fill-opacity="0.60"/>
<circle cx="53.6" cy="192.02" r="2.7" fill="#000000" fill-opacity="0.60"/>
<circle cx="53.6" cy="191.28" r="2.7" fill="#000000" fill-opacity="0.60"/>
<circle cx="53.6" cy="192.16" r="2.7" fill="#000000" fill-opacity="0.60"/>
<circle cx="53.6" cy="191.39" r="2.7" fill="#000000" fill-opacity="0.60"/>
<circle cx="63.5" cy="191.52" r="2.7" fill="#000000" fill-opacity="0.60"/>
<circle cx="63.5" cy="194.82" r="2.7" fill="#000000" fill-opacity="0.60"/>
<circle cx="63.5" cy="192.05" r="2.7" fill="#000000" fill-opacity="0.60"/>
<circle cx="63.5" cy="193.31" r="2.7" fill="#000000" fill-opacity="0.60"/>
<circle cx="63.5" cy="191.78" r="2.7" fill="#000000" fill-opacity="0.60"/>
<circle cx="63.5" cy="192.52" r="2.7" fill="#000000" fill-opacity="0.60"/>
<circle cx="63.5" cy="194.42" r="2.7" fill="#000000" fill-opacity="0.60"/>
<circle cx="69" cy="196.44" r="2.7" fill="#000000" fill-opacity="0.60"/>
<circle cx="69" cy="198.1" r="2.7" fill="#000000" fill-opacity="0.60"/>
<circle cx="69" cy="199.96" r="2.7" fill="#000000" fill-opacity="0.60"/>
<circle cx="69" cy="200.04" r="2.7" fill="#000000" fill-opacity="0.60"/>
<circle cx="69" cy="198.08" r="2.7" fill="#000000" fill-opacity="0.60"/>
<circle cx="69" cy="198.24" r="2.7" fill="#000000" fill-opacity="0.60"/>
<circle cx="69" cy="198.84" r="2.7" fill="#000000" fill-opacity="0.60"/>
<circle cx="74.5" cy="204.08" r="2.7" fill="#000000" fill-opacity="0.60"/>
<circle cx="74.5" cy="203.26" r="2.7" fill="#000000" fill-opacity="0.60"/>
<circle cx="74.5" cy="203.37" r="2.7" fill="#000000" fill-opacity="0.60"/>
<circle cx="74.5" cy="201.26" r="2.7" fill="#000000" fill-opacity="0.60"/>
<circle cx="74.5" cy="204.64" r="2.7" fill="#000000" fill-opacity="0.60"/>
<circle cx="74.5" cy="201.62" r="2.7" fill="#000000" fill-opacity="0.60"/>
<circle cx="74.5" cy="201.26" r="2.7" fill="#000000" fill-opacity="0.60"/>
<circle cx="85.5" cy="215.58" r="2.7" fill="#000000" fill-opacity="0.60"/>
<circle cx="85.5" cy="208.28" r="2.7" fill="#000000" fill-opacity="0.60"/>
<circle cx="85.5" cy="210.21" r="2.7" fill="#000000" fill-opacity="0.60"/>
<circle cx="85.5" cy="208.5" r="2.7" fill="#000000" fill-opacity="0.60"/>
<circle cx="85.5" cy="214.05" r="2.7" fill="#000000" fill-opacity="0.60"/>
<circle cx="85.5" cy="213.3" r="2.7" fill="#000000" fill-opacity="0.60"/>
<circle cx="85.5" cy="213.11" r="2.7" fill="#000000" fill-opacity="0.60"/>
<circle cx="96.5" cy="214.33" r="2.7" fill="#000000" fill-opacity="0.60"/>
<circle cx="96.5" cy="218.05" r="2.7" fill="#000000" fill-opacity="0.60"/>
<circle cx="96.5" cy="220.12" r="2.7" fill="#000000" fill-opacity="0.60"/>
<circle cx="96.5" cy="219.51" r="2.7" fill="#000000" fill-opacity="0.60"/>
<circle cx="96.5" cy="220.89" r="2.7" fill="#000000" fill-opacity="0.60"/>
<circle cx="96.5" cy="222.95" r="2.7" fill="#000000" fill-opacity="0.60"/>
<circle cx="96.5" cy="222.47" r="2.7" fill="#000000" fill-opacity="0.60"/>
<circle cx="107.5" cy="221.42" r="2.7" fill="#000000" fill-opacity="0.60"/>
<circle cx="107.5" cy="226.39" r="2.7" fill="#000000" fill-opacity="0.60"/>
<circle cx="107.5" cy="220.5" r="2.7" fill="#000000" fill-opacity="0.60"/>
<circle cx="107.5" cy="226.72" r="2.7" fill="#000000" fill-opacity="0.60"/>
<circle cx="107.5" cy="226.57" r="2.7" fill="#000000" fill-opacity="0.60"/>
<circle cx="107.5" cy="224.35" r="2.7" fill="#000000" fill-opacity="0.60"/>
<circle cx="107.5" cy="227.26" r="2.7" fill="#000000" fill-opacity="0.60"/>
<circle cx="118.5" cy="230.63" r="2.7" fill="#000000" fill-opacity="0.60"/>
<circle cx="118.5" cy="225.35" r="2.7" fill="#000000" fill-opacity="0.60"/>
<circle cx="118.5" cy="226" r="2.7" fill="#000000" fill-opacity="0.60"/>
<circle cx="118.5" cy="226.66" r="2.7" fill="#000000" fill-opacity="0.60"/>
<circle cx="118.5" cy="228.3" r="2.7" fill="#000000" fill-opacity="0.60"/>
<circle cx="118.5" cy="225.74" r="2.7" fill="#000000" fill-opacity="0.60"/>
<circle cx="118.5" cy="225.49" r="2.7" fill="#000000" fill-opacity="0.60"/>
<circle cx="129.5" cy="234.07" r="2.7" fill="#000000" fill-opacity="0.60"/>
<circle cx="129.5" cy="232.53" r="2.7" fill="#000000" fill-opacity="0.60"/>
<circle cx="129.5" cy="238.6" r="2.7" fill="#000000" fill-opacity="0.60"/>
<circle cx="129.5" cy="232.41" r="2.7" fill="#000000" fill-opacity="0.60"/>
<circle cx="129.5" cy="234.97" r="2.7" fill="#000000" fill-opacity="0.60"/>
<circle cx="129.5" cy="232.23" r="2.7" fill="#000000" fill-opacity="0.60"/>
<circle cx="129.5" cy="233.21" r="2.7" fill="#000000" fill-opacity="0.60"/>
<circle cx="140.5" cy="240.49" r="2.7" fill="#000000" fill-opacity="0.60"/>
<circle cx="140.5" cy="242.64" r="2.7" fill="#000000" fill-opacity="0.60"/>
<circle cx="140.5" cy="234.68" r="2.7" fill="#000000" fill-opacity="0.60"/>
<circle cx="140.5" cy="241.93" r="2.7" fill="#000000" fill-opacity="0.60"/>
<circle cx="140.5" cy="238.8" r="2.7" fill="#000000" fill-opacity="0.60"/>
<circle cx="140.5" cy="239.97" r="2.7" fill="#000000" fill-opacity="0.60"/>
<circle cx="140.5" cy="240.38" r="2.7" fill="#000000" fill-opacity="0.60"/>
<circle cx="151.5" cy="240.75" r="2.7" fill="#000000" fill-opacity="0.60"/>
<circle cx="151.5" cy="238.6" r="2.7" fill="#000000" fill-opacity="0.60"/>
<circle cx="151.5" cy="245.09" r="2.7" fill="#000000" fill-opacity="0.60"/>
<circle cx="151.5" cy="241.5" r="2.7" fill="#000000" fill-opacity="0.60"/>
<circle cx="151.5" cy="244.72" r="2.7" fill="#000000" fill-opacity="0.60"/>
<circle cx="151.5" cy="242.39" r="2.7" fill="#000000" fill-opacity="0.60"/>
<circle cx="151.5" cy="243.87" r="2.7" fill="#000000" fill-opacity="0.60"/>
<circle cx="162.5" cy="250.4" r="2.7" fill="#000000" fill-opacity="0.60"/>
<circle cx="162.5" cy="250.46" r="2.7" fill="#000000" fill-opacity="0.60"/>
<circle cx="162.5" cy="250.04" r="2.7" fill="#000000" fill-opacity="0.60"/>
<circle cx="162.5" cy="243.71" r="2.7" fill="#000000" fill-opacity="0.60"/>
<circle cx="162.5" cy="247.42" r="2.7" fill="#000000" fill-opacity="0.60"/>
<circle cx="162.5" cy="249.93" r="2.7" fill="#000000" fill-opacity="0.60"/>
<circle cx="162.5" cy="243.71" r="2.7" fill="#000000" fill-opacity="0.60"/>
<path d="M53.6 201.4L63.5 198.71L69 198.71L74.5 206.55L85.5 246.83L96.5 260.26L107.5 263.06L118.5 263.61L129.5 263.61L140.5 263.61L151.5 263.61L162.5 263.61" fill="none" stroke="#add8e6" stroke-width="1.1" stroke-linejoin="round"/>
<path d="M53.6 192L63.5 194.24L69 197.59L74.5 204.31L85.5 233.4L96.5 253.54L107.5 259.14L118.5 261.38L129.5 261.94L140.5 262.5L151.5 262.5L162.5 261.94" fill="none" stroke="#8db6ee" stroke-width="1.1" stroke-linejoin="round"/>
<path d="M53.6 191.44L63.5 193.68L69 197.59L74.5 203.19L85.5 215.5L96.5 224.45L107.5 239L118.5 247.95L129.5 255.78L140.5 258.58L151.5 259.14L162.5 259.14" fill="none" stroke="#6f7bef" stroke-width="1.1" stroke-linejoin="round"/>
<path d="M53.6 191.44L63.5 193.68L69 197.59L74.5 202.63L85.5 212.7L96.5 219.97L107.5 225.57L118.5 233.4L129.5 245.71L140.5 256.34L151.5 258.36L162.5 257.24" fill="none" stroke="#5b48ee" stroke-width="1.1" stroke-linejoin="round"/>
<path d="M53.6 191.44L63.5 193.57L69 198.04L74.5 202.85L85.5 212.14L96.5 218.3L107.5 223.89L118.5 228.93L129.5 233.96L140.5 238.44L151.5 242.91L162.5 247.39" fill="none" stroke="#8a2be2" stroke-width="1.1" stroke-linejoin="round"/>
<path d="M53.6 191.44L63.5 193.45L69 198.04L74.5 202.74L85.5 211.92L96.5 218.3L107.5 224.11L118.5 229.15L129.5 234.19L140.5 238.33L151.5 242.8L162.5 247.28" fill="none" stroke="#8b008b" stroke-width="1.1" stroke-linejoin="round"/>
<path d="M53.6 191.44L63.5 193.34L69 198.04L74.5 202.63L85.5 212.14L96.5 218.85L107.5 224.45L118.5 229.49L129.5 234.52L140.5 238.55L151.5 242.91L162.5 247.39" fill="none" stroke="#000000" stroke-width="1.4" stroke-linejoin="round"/>
</g>
<circle cx="63.4" cy="212.5" r="2.7" fill="#add8e6" fill-opacity="0.5"/>
<circle cx="69.3" cy="223.6" r="2.7" fill="#add8e6" fill-opacity="0.5"/>
<circle cx="53.6" cy="269.1" r="2.7" fill="#add8e6" fill-opacity="0.5"/>
<circle cx="85.3" cy="254" r="2.7" fill="#add8e6" fill-opacity="0.5"/>
<circle cx="74.9" cy="200.5" r="2.7" fill="#add8e6" fill-opacity="0.5"/>
<circle cx="53.6" cy="201.3" r="2.8" fill="#9fa5ea" fill-opacity="0.75"/>
<rect x="48.5" y="168.5" width="119" height="111.8" fill="none" stroke="#2e2e2e" stroke-width="0.7" />
<line x1="52.5" y1="280.3" x2="52.5" y2="282.7" stroke="#2e2e2e" stroke-width="0.7" />
<line x1="74.5" y1="280.3" x2="74.5" y2="282.7" stroke="#2e2e2e" stroke-width="0.7" />
<line x1="96.5" y1="280.3" x2="96.5" y2="282.7" stroke="#2e2e2e" stroke-width="0.7" />
<line x1="118.5" y1="280.3" x2="118.5" y2="282.7" stroke="#2e2e2e" stroke-width="0.7" />
<line x1="140.5" y1="280.3" x2="140.5" y2="282.7" stroke="#2e2e2e" stroke-width="0.7" />
<line x1="162.5" y1="280.3" x2="162.5" y2="282.7" stroke="#2e2e2e" stroke-width="0.7" />
<line x1="46.1" y1="168.5" x2="48.5" y2="168.5" stroke="#2e2e2e" stroke-width="0.7" />
<line x1="46.1" y1="190.9" x2="48.5" y2="190.9" stroke="#2e2e2e" stroke-width="0.7" />
<line x1="46.1" y1="213.3" x2="48.5" y2="213.3" stroke="#2e2e2e" stroke-width="0.7" />
<line x1="46.1" y1="235.7" x2="48.5" y2="235.7" stroke="#2e2e2e" stroke-width="0.7" />
<line x1="46.1" y1="258.1" x2="48.5" y2="258.1" stroke="#2e2e2e" stroke-width="0.7" />
<line x1="46.1" y1="280.4" x2="48.5" y2="280.4" stroke="#2e2e2e" stroke-width="0.7" />
<text x="43.1" y="174.4" font-size="9.7" text-anchor="end" fill="#000" transform="rotate(0.1 43.1 174.4)"  stroke="#000" stroke-width="0.14">100</text>
<text x="43.1" y="196.2" font-size="9.7" text-anchor="end" fill="#000" transform="rotate(0.1 43.1 196.2)"  stroke="#000" stroke-width="0.14">80</text>
<text x="43.1" y="219" font-size="9.7" text-anchor="end" fill="#000" transform="rotate(0.1 43.1 219)"  stroke="#000" stroke-width="0.14">60</text>
<text x="43.1" y="242" font-size="9.7" text-anchor="end" fill="#000" transform="rotate(0.1 43.1 242)"  stroke="#000" stroke-width="0.14">40</text>
<text x="43.1" y="264.2" font-size="9.7" text-anchor="end" fill="#000" transform="rotate(0.1 43.1 264.2)"  stroke="#000" stroke-width="0.14">20</text>
<text x="43.1" y="286.3" font-size="9.7" text-anchor="end" fill="#000" transform="rotate(0.1 43.1 286.3)"  stroke="#000" stroke-width="0.14">0</text>
<text x="52.5" y="293" font-size="9.7" text-anchor="middle" fill="#000" transform="rotate(0.1 52.5 293)"  stroke="#000" stroke-width="0.14">0</text>
<text x="73.8" y="293" font-size="9.7" text-anchor="middle" fill="#000" transform="rotate(0.1 73.8 293)"  stroke="#000" stroke-width="0.14">0.2</text>
<text x="95.7" y="293" font-size="9.7" text-anchor="middle" fill="#000" transform="rotate(0.1 95.7 293)"  stroke="#000" stroke-width="0.14">0.4</text>
<text x="117.3" y="293" font-size="9.7" text-anchor="middle" fill="#000" transform="rotate(0.1 117.3 293)"  stroke="#000" stroke-width="0.14">0.6</text>
<text x="138.1" y="293" font-size="9.7" text-anchor="middle" fill="#000" transform="rotate(0.1 138.1 293)"  stroke="#000" stroke-width="0.14">0.8</text>
<text x="162.5" y="293" font-size="9.7" text-anchor="middle" fill="#000" transform="rotate(0.1 162.5 293)"  stroke="#000" stroke-width="0.14">1.0</text>
<text x="11.4" y="222" font-size="12.4" text-anchor="middle" fill="#000" transform="rotate(-90 11.4 222)"  stroke="#000" stroke-width="0.14">Percent Excitatory</text>
<text x="25.9" y="222.6" font-size="12.4" text-anchor="middle" fill="#000" transform="rotate(-90 25.9 222.6)"  stroke="#000" stroke-width="0.14">Spikes</text>
<text x="49.7" y="309" font-size="12.4" text-anchor="start" fill="#000" transform="rotate(0.1 49.7 309)"  stroke="#000" stroke-width="0.14">σ<tspan font-size="8.4" dy="2.6">noise</tspan><tspan dy="-2.6" dx="1.9">(multiple of σ</tspan><tspan font-size="8.4" dy="2.6">init</tspan><tspan dy="-2.6" dx="-0.3">)</tspan></text>
<text x="13" y="162" font-size="14" text-anchor="start" font-weight="bold" fill="#000" transform="rotate(0.1 13 162)" >b)</text>
<rect x="91.3" y="170.2" width="68.6" height="29.7" fill="#fff" stroke="#d0d0d0" stroke-width="0.6" rx="1.4" fill-opacity="0.8"/>
<line x1="94.2" y1="174.3" x2="105.7" y2="174.3" stroke="#000000" stroke-width="1.2" />
<text x="109" y="176.2" font-size="5.2" text-anchor="start" style='font-family:"DejaVu Sans", "Liberation Sans", sans-serif' fill="#000" transform="rotate(0.1 109 176.2)" stroke="#000" stroke-width="0.12">100:0</text>
<line x1="94.2" y1="181.27" x2="105.7" y2="181.27" stroke="#8b008b" stroke-width="1.2" />
<text x="109" y="183.17" font-size="5.2" text-anchor="start" style='font-family:"DejaVu Sans", "Liberation Sans", sans-serif' fill="#000" transform="rotate(0.1 109 183.17)" stroke="#000" stroke-width="0.12">95:5</text>
<line x1="94.2" y1="188.24" x2="105.7" y2="188.24" stroke="#8a2be2" stroke-width="1.2" />
<text x="109" y="190.14" font-size="5.2" text-anchor="start" style='font-family:"DejaVu Sans", "Liberation Sans", sans-serif' fill="#000" transform="rotate(0.1 109 190.14)" stroke="#000" stroke-width="0.12">90:10</text>
<line x1="128.5" y1="174.3" x2="140" y2="174.3" stroke="#5b48ee" stroke-width="1.2" />
<text x="143.2" y="176.2" font-size="5.2" text-anchor="start" style='font-family:"DejaVu Sans", "Liberation Sans", sans-serif' fill="#000" transform="rotate(0.1 143.2 176.2)" stroke="#000" stroke-width="0.12">80:20</text>
<line x1="128.5" y1="181.27" x2="140" y2="181.27" stroke="#6f7bef" stroke-width="1.2" />
<text x="143.2" y="183.17" font-size="5.2" text-anchor="start" style='font-family:"DejaVu Sans", "Liberation Sans", sans-serif' fill="#000" transform="rotate(0.1 143.2 183.17)" stroke="#000" stroke-width="0.12">75:25</text>
<line x1="128.5" y1="188.24" x2="140" y2="188.24" stroke="#8fb4ee" stroke-width="1.2" />
<text x="143.2" y="190.14" font-size="5.2" text-anchor="start" style='font-family:"DejaVu Sans", "Liberation Sans", sans-serif' fill="#000" transform="rotate(0.1 143.2 190.14)" stroke="#000" stroke-width="0.12">70:30</text>
<line x1="128.5" y1="195.21" x2="140" y2="195.21" stroke="#a9d3ec" stroke-width="1.2" />
<text x="143.2" y="197.11" font-size="5.2" text-anchor="start" style='font-family:"DejaVu Sans", "Liberation Sans", sans-serif' fill="#000" transform="rotate(0.1 143.2 197.11)" stroke="#000" stroke-width="0.12">50:50</text>
<rect x="216.5" y="168.5" width="119" height="111.8" fill="#fff" stroke="none" stroke-width="0.8" />
<line x1="227.9" y1="168.5" x2="227.9" y2="280.3" stroke="#b0b0b0" stroke-width="0.7" />
<line x1="251.8" y1="168.5" x2="251.8" y2="280.3" stroke="#b0b0b0" stroke-width="0.7" />
<line x1="275.7" y1="168.5" x2="275.7" y2="280.3" stroke="#b0b0b0" stroke-width="0.7" />
<line x1="299.6" y1="168.5" x2="299.6" y2="280.3" stroke="#b0b0b0" stroke-width="0.7" />
<line x1="323.5" y1="168.5" x2="323.5" y2="280.3" stroke="#b0b0b0" stroke-width="0.7" />
<line x1="216.5" y1="179.6" x2="335.5" y2="179.6" stroke="#b0b0b0" stroke-width="0.7" />
<line x1="216.5" y1="199.1" x2="335.5" y2="199.1" stroke="#b0b0b0" stroke-width="0.7" />
<line x1="216.5" y1="218.6" x2="335.5" y2="218.6" stroke="#b0b0b0" stroke-width="0.7" />
<line x1="216.5" y1="238.1" x2="335.5" y2="238.1" stroke="#b0b0b0" stroke-width="0.7" />
<line x1="216.5" y1="257.6" x2="335.5" y2="257.6" stroke="#b0b0b0" stroke-width="0.7" />
<line x1="216.5" y1="277.1" x2="335.5" y2="277.1" stroke="#b0b0b0" stroke-width="0.7" />
<rect x="218.5" y="193.06" width="18.8" height="6.04" fill="#6f7bef" stroke="none" stroke-width="0.8" />
<rect x="242.4" y="196.95" width="18.8" height="2.15" fill="#6650f0" stroke="none" stroke-width="0.8" />
<rect x="266.3" y="197.15" width="18.8" height="1.95" fill="#8030d0" stroke="none" stroke-width="0.8" />
<line x1="216.5" y1="199.1" x2="335.5" y2="199.1" stroke="#000" stroke-width="1.2" />
<line x1="227.9" y1="188.18" x2="227.9" y2="197.73" stroke="#000" stroke-width="1.1" />
<line x1="225.3" y1="188.18" x2="230.5" y2="188.18" stroke="#000" stroke-width="1.1" />
<line x1="225.3" y1="197.73" x2="230.5" y2="197.73" stroke="#000" stroke-width="1.1" />
<line x1="251.8" y1="190.91" x2="251.8" y2="202.22" stroke="#000" stroke-width="1.1" />
<line x1="249.2" y1="190.91" x2="254.4" y2="190.91" stroke="#000" stroke-width="1.1" />
<line x1="249.2" y1="202.22" x2="254.4" y2="202.22" stroke="#000" stroke-width="1.1" />
<line x1="275.7" y1="194.42" x2="275.7" y2="200.27" stroke="#000" stroke-width="1.1" />
<line x1="273.1" y1="194.42" x2="278.3" y2="194.42" stroke="#000" stroke-width="1.1" />
<line x1="273.1" y1="200.27" x2="278.3" y2="200.27" stroke="#000" stroke-width="1.1" />
<line x1="299.6" y1="192.66" x2="299.6" y2="205.34" stroke="#000" stroke-width="1.1" />
<line x1="297" y1="192.66" x2="302.2" y2="192.66" stroke="#000" stroke-width="1.1" />
<line x1="297" y1="205.34" x2="302.2" y2="205.34" stroke="#000" stroke-width="1.1" />
<line x1="323.5" y1="193.44" x2="323.5" y2="203.97" stroke="#000" stroke-width="1.1" />
<line x1="320.9" y1="193.44" x2="326.1" y2="193.44" stroke="#000" stroke-width="1.1" />
<line x1="320.9" y1="203.97" x2="326.1" y2="203.97" stroke="#000" stroke-width="1.1" />
<text x="228.25" y="177.6" font-size="12.2" text-anchor="middle" style='font-family:"DejaVu Sans", "Liberation Sans", sans-serif' fill="#6f7bef" transform="rotate(0.1 228.25 177.6)" stroke="#6f7bef" stroke-width="0.4" letter-spacing="0.55">**</text>
<rect x="216.5" y="168.5" width="119" height="111.8" fill="none" stroke="#2e2e2e" stroke-width="0.7" />
<line x1="227.9" y1="280.3" x2="227.9" y2="282.7" stroke="#2e2e2e" stroke-width="0.7" />
<line x1="251.8" y1="280.3" x2="251.8" y2="282.7" stroke="#2e2e2e" stroke-width="0.7" />
<line x1="275.7" y1="280.3" x2="275.7" y2="282.7" stroke="#2e2e2e" stroke-width="0.7" />
<line x1="299.6" y1="280.3" x2="299.6" y2="282.7" stroke="#2e2e2e" stroke-width="0.7" />
<line x1="323.5" y1="280.3" x2="323.5" y2="282.7" stroke="#2e2e2e" stroke-width="0.7" />
<line x1="214.1" y1="179.6" x2="216.5" y2="179.6" stroke="#2e2e2e" stroke-width="0.7" />
<line x1="214.1" y1="199.1" x2="216.5" y2="199.1" stroke="#2e2e2e" stroke-width="0.7" />
<line x1="214.1" y1="218.6" x2="216.5" y2="218.6" stroke="#2e2e2e" stroke-width="0.7" />
<line x1="214.1" y1="238.1" x2="216.5" y2="238.1" stroke="#2e2e2e" stroke-width="0.7" />
<line x1="214.1" y1="257.6" x2="216.5" y2="257.6" stroke="#2e2e2e" stroke-width="0.7" />
<line x1="214.1" y1="277.1" x2="216.5" y2="277.1" stroke="#2e2e2e" stroke-width="0.7" />
<text x="212" y="183.9" font-size="9.7" text-anchor="end" fill="#000" transform="rotate(0.1 212 183.9)"  stroke="#000" stroke-width="0.14">5</text>
<text x="212" y="203.8" font-size="9.7" text-anchor="end" fill="#000" transform="rotate(0.1 212 203.8)"  stroke="#000" stroke-width="0.14">0</text>
<text x="212" y="223.1" font-size="9.7" text-anchor="end" fill="#000" transform="rotate(0.1 212 223.1)"  stroke="#000" stroke-width="0.14">-5</text>
<text x="212" y="241.8" font-size="9.7" text-anchor="end" fill="#000" transform="rotate(0.1 212 241.8)"  stroke="#000" stroke-width="0.14">-10</text>
<text x="212" y="261.4" font-size="9.7" text-anchor="end" fill="#000" transform="rotate(0.1 212 261.4)"  stroke="#000" stroke-width="0.14">-15</text>
<text x="212" y="280.7" font-size="9.7" text-anchor="end" fill="#000" transform="rotate(0.1 212 280.7)"  stroke="#000" stroke-width="0.14">-20</text>
<text x="225.6" y="290.9" font-size="9.8" text-anchor="middle" fill="#000" transform="rotate(-30 225.6 287.6)" stroke="#000" stroke-width="0.14">75:2</text>
<text x="230.9" y="299.7" font-size="9.8" text-anchor="middle" fill="#000" transform="rotate(-30 230.9 296.4)" stroke="#000" stroke-width="0.14">5</text>
<text x="249.5" y="290.9" font-size="9.8" text-anchor="middle" fill="#000" transform="rotate(-30 249.5 287.6)" stroke="#000" stroke-width="0.14">80:2</text>
<text x="254.8" y="299.7" font-size="9.8" text-anchor="middle" fill="#000" transform="rotate(-30 254.8 296.4)" stroke="#000" stroke-width="0.14">0</text>
<text x="276" y="295.1" font-size="9.8" text-anchor="middle" fill="#000" transform="rotate(-30 276 291.8)" stroke="#000" stroke-width="0.14">90:10</text>
<text x="299.9" y="295.1" font-size="9.8" text-anchor="middle" fill="#000" transform="rotate(-30 299.9 291.8)" stroke="#000" stroke-width="0.14">95:5</text>
<text x="323.8" y="295.1" font-size="9.8" text-anchor="middle" fill="#000" transform="rotate(-30 323.8 291.8)" stroke="#000" stroke-width="0.14">100:0</text>
<text x="280.4" y="311.4" font-size="12.4" text-anchor="middle" fill="#000" transform="rotate(0.1 280.4 311.4)"  stroke="#000" stroke-width="0.14">E:I Ratio</text>
<text x="180.5" y="220" font-size="11" text-anchor="middle" fill="#000" transform="rotate(-90 180.5 220)"  stroke="#000" stroke-width="0.14">Difference with</text>
<text x="193.1" y="219" font-size="11" text-anchor="middle" fill="#000" transform="rotate(-90 193.1 219)"  stroke="#000" stroke-width="0.14">100:0 Network</text>
<rect x="251.3" y="258.2" width="81.2" height="18.2" fill="#fff" stroke="#222" stroke-width="0.8" fill-opacity="0.85"/>
<text x="255.9" y="271.6" font-size="10.85" text-anchor="start" fill="#000" transform="rotate(0.1 255.9 271.6)"  stroke="#000" stroke-width="0.14">σ<tspan font-size="7.5" dy="2.4">noise</tspan><tspan dy="-2.4"> = 0.2</tspan><tspan font-size="13.5" dy="1.5" dx="-0.3">*</tspan><tspan dy="-1.5" dx="-0.8">σ</tspan><tspan font-size="7.5" dy="2.4" dx="0">init</tspan></text>
<text x="180.1" y="162" font-size="14" text-anchor="start" font-weight="bold" fill="#000" transform="rotate(0.1 180.1 162)" >c)</text>
<rect x="384" y="168.5" width="119" height="111.8" fill="#fff" stroke="none" stroke-width="0.8" />
<line x1="395.6" y1="168.5" x2="395.6" y2="280.3" stroke="#b0b0b0" stroke-width="0.7" />
<line x1="419.5" y1="168.5" x2="419.5" y2="280.3" stroke="#b0b0b0" stroke-width="0.7" />
<line x1="443.5" y1="168.5" x2="443.5" y2="280.3" stroke="#b0b0b0" stroke-width="0.7" />
<line x1="467.4" y1="168.5" x2="467.4" y2="280.3" stroke="#b0b0b0" stroke-width="0.7" />
<line x1="491.3" y1="168.5" x2="491.3" y2="280.3" stroke="#b0b0b0" stroke-width="0.7" />
<line x1="384" y1="179.6" x2="503" y2="179.6" stroke="#b0b0b0" stroke-width="0.7" />
<line x1="384" y1="199.1" x2="503" y2="199.1" stroke="#b0b0b0" stroke-width="0.7" />
<line x1="384" y1="218.6" x2="503" y2="218.6" stroke="#b0b0b0" stroke-width="0.7" />
<line x1="384" y1="238.1" x2="503" y2="238.1" stroke="#b0b0b0" stroke-width="0.7" />
<line x1="384" y1="257.6" x2="503" y2="257.6" stroke="#b0b0b0" stroke-width="0.7" />
<line x1="384" y1="277.1" x2="503" y2="277.1" stroke="#b0b0b0" stroke-width="0.7" />
<rect x="386.2" y="196.95" width="18.8" height="2.15" fill="#6f7bef" stroke="none" stroke-width="0.8" />
<rect x="410.1" y="193.06" width="18.8" height="6.04" fill="#6650f0" stroke="none" stroke-width="0.8" />
<rect x="434.1" y="190.91" width="18.8" height="8.19" fill="#8030d0" stroke="none" stroke-width="0.8" />
<rect x="458" y="197.73" width="18.8" height="1.37" fill="#8e0f9a" stroke="none" stroke-width="0.8" />
<line x1="384" y1="199.1" x2="503" y2="199.1" stroke="#000" stroke-width="1.2" />
<line x1="395.6" y1="174.92" x2="395.6" y2="217.43" stroke="#000" stroke-width="1.1" />
<line x1="393" y1="174.92" x2="398.2" y2="174.92" stroke="#000" stroke-width="1.1" />
<line x1="393" y1="217.43" x2="398.2" y2="217.43" stroke="#000" stroke-width="1.1" />
<line x1="419.5" y1="181.94" x2="419.5" y2="203.19" stroke="#000" stroke-width="1.1" />
<line x1="416.9" y1="181.94" x2="422.1" y2="181.94" stroke="#000" stroke-width="1.1" />
<line x1="416.9" y1="203.19" x2="422.1" y2="203.19" stroke="#000" stroke-width="1.1" />
<line x1="443.5" y1="185.45" x2="443.5" y2="196.37" stroke="#000" stroke-width="1.1" />
<line x1="440.9" y1="185.45" x2="446.1" y2="185.45" stroke="#000" stroke-width="1.1" />
<line x1="440.9" y1="196.37" x2="446.1" y2="196.37" stroke="#000" stroke-width="1.1" />
<line x1="467.4" y1="186.23" x2="467.4" y2="208.26" stroke="#000" stroke-width="1.1" />
<line x1="464.8" y1="186.23" x2="470" y2="186.23" stroke="#000" stroke-width="1.1" />
<line x1="464.8" y1="208.26" x2="470" y2="208.26" stroke="#000" stroke-width="1.1" />
<line x1="491.3" y1="194.42" x2="491.3" y2="203.39" stroke="#000" stroke-width="1.1" />
<line x1="488.7" y1="194.42" x2="493.9" y2="194.42" stroke="#000" stroke-width="1.1" />
<line x1="488.7" y1="203.39" x2="493.9" y2="203.39" stroke="#000" stroke-width="1.1" />
<text x="419.85" y="177.6" font-size="12.2" text-anchor="middle" style='font-family:"DejaVu Sans", "Liberation Sans", sans-serif' fill="#6650f0" transform="rotate(0.1 419.85 177.6)" stroke="#6650f0" stroke-width="0.4" letter-spacing="0.55">*</text>
<text x="443.85" y="177.6" font-size="12.2" text-anchor="middle" style='font-family:"DejaVu Sans", "Liberation Sans", sans-serif' fill="#8030d0" transform="rotate(0.1 443.85 177.6)" stroke="#8030d0" stroke-width="0.4" letter-spacing="0.55">***</text>
<rect x="384" y="168.5" width="119" height="111.8" fill="none" stroke="#2e2e2e" stroke-width="0.7" />
<line x1="395.6" y1="280.3" x2="395.6" y2="282.7" stroke="#2e2e2e" stroke-width="0.7" />
<line x1="419.5" y1="280.3" x2="419.5" y2="282.7" stroke="#2e2e2e" stroke-width="0.7" />
<line x1="443.5" y1="280.3" x2="443.5" y2="282.7" stroke="#2e2e2e" stroke-width="0.7" />
<line x1="467.4" y1="280.3" x2="467.4" y2="282.7" stroke="#2e2e2e" stroke-width="0.7" />
<line x1="491.3" y1="280.3" x2="491.3" y2="282.7" stroke="#2e2e2e" stroke-width="0.7" />
<line x1="381.6" y1="179.6" x2="384" y2="179.6" stroke="#2e2e2e" stroke-width="0.7" />
<line x1="381.6" y1="199.1" x2="384" y2="199.1" stroke="#2e2e2e" stroke-width="0.7" />
<line x1="381.6" y1="218.6" x2="384" y2="218.6" stroke="#2e2e2e" stroke-width="0.7" />
<line x1="381.6" y1="238.1" x2="384" y2="238.1" stroke="#2e2e2e" stroke-width="0.7" />
<line x1="381.6" y1="257.6" x2="384" y2="257.6" stroke="#2e2e2e" stroke-width="0.7" />
<line x1="381.6" y1="277.1" x2="384" y2="277.1" stroke="#2e2e2e" stroke-width="0.7" />
<text x="379.5" y="183.9" font-size="9.7" text-anchor="end" fill="#000" transform="rotate(0.1 379.5 183.9)"  stroke="#000" stroke-width="0.14">5</text>
<text x="379.5" y="203.8" font-size="9.7" text-anchor="end" fill="#000" transform="rotate(0.1 379.5 203.8)"  stroke="#000" stroke-width="0.14">0</text>
<text x="379.5" y="223.1" font-size="9.7" text-anchor="end" fill="#000" transform="rotate(0.1 379.5 223.1)"  stroke="#000" stroke-width="0.14">-5</text>
<text x="379.5" y="241.8" font-size="9.7" text-anchor="end" fill="#000" transform="rotate(0.1 379.5 241.8)"  stroke="#000" stroke-width="0.14">-10</text>
<text x="379.5" y="261.4" font-size="9.7" text-anchor="end" fill="#000" transform="rotate(0.1 379.5 261.4)"  stroke="#000" stroke-width="0.14">-15</text>
<text x="379.5" y="280.7" font-size="9.7" text-anchor="end" fill="#000" transform="rotate(0.1 379.5 280.7)"  stroke="#000" stroke-width="0.14">-20</text>
<text x="394.5" y="290.9" font-size="9.8" text-anchor="middle" fill="#000" transform="rotate(-30 394.5 287.6)" stroke="#000" stroke-width="0.14">75:2</text>
<text x="399.8" y="299.7" font-size="9.8" text-anchor="middle" fill="#000" transform="rotate(-30 399.8 296.4)" stroke="#000" stroke-width="0.14">5</text>
<text x="418.4" y="290.9" font-size="9.8" text-anchor="middle" fill="#000" transform="rotate(-30 418.4 287.6)" stroke="#000" stroke-width="0.14">80:2</text>
<text x="423.7" y="299.7" font-size="9.8" text-anchor="middle" fill="#000" transform="rotate(-30 423.7 296.4)" stroke="#000" stroke-width="0.14">0</text>
<text x="445" y="295.1" font-size="9.8" text-anchor="middle" fill="#000" transform="rotate(-30 445 291.8)" stroke="#000" stroke-width="0.14">90:10</text>
<text x="468.9" y="295.1" font-size="9.8" text-anchor="middle" fill="#000" transform="rotate(-30 468.9 291.8)" stroke="#000" stroke-width="0.14">95:5</text>
<text x="492.8" y="295.1" font-size="9.8" text-anchor="middle" fill="#000" transform="rotate(-30 492.8 291.8)" stroke="#000" stroke-width="0.14">100:0</text>
<text x="449.9" y="311.4" font-size="12.6" text-anchor="middle" fill="#000" transform="rotate(0.1 449.9 311.4)"  stroke="#000" stroke-width="0.14">E:I Ratio</text>
<text x="346.3" y="220" font-size="11" text-anchor="middle" fill="#000" transform="rotate(-90 346.3 220)"  stroke="#000" stroke-width="0.14">Difference with</text>
<text x="358.9" y="219" font-size="11" text-anchor="middle" fill="#000" transform="rotate(-90 358.9 219)"  stroke="#000" stroke-width="0.14">100:0 Network</text>
<rect x="420.5" y="258.2" width="81.1" height="18.2" fill="#fff" stroke="#222" stroke-width="0.8" fill-opacity="0.85"/>
<text x="424.6" y="271.6" font-size="10.85" text-anchor="start" fill="#000" transform="rotate(0.1 424.6 271.6)"  stroke="#000" stroke-width="0.14">σ<tspan font-size="7.5" dy="2.4">noise</tspan><tspan dy="-2.4"> = 0.4</tspan><tspan font-size="13.5" dy="1.5" dx="-0.3">*</tspan><tspan dy="-1.5" dx="-0.8">σ</tspan><tspan font-size="7.5" dy="2.4" dx="0">init</tspan></text>
<text x="353" y="162" font-size="14" text-anchor="start" font-weight="bold" fill="#000" transform="rotate(0.1 353 162)" >d)</text>
<rect x="551.6" y="168.5" width="119.3" height="111.8" fill="#fff" stroke="none" stroke-width="0.8" />
<line x1="563.5" y1="168.5" x2="563.5" y2="280.3" stroke="#b0b0b0" stroke-width="0.7" />
<line x1="587.4" y1="168.5" x2="587.4" y2="280.3" stroke="#b0b0b0" stroke-width="0.7" />
<line x1="611.3" y1="168.5" x2="611.3" y2="280.3" stroke="#b0b0b0" stroke-width="0.7" />
<line x1="635" y1="168.5" x2="635" y2="280.3" stroke="#b0b0b0" stroke-width="0.7" />
<line x1="658.7" y1="168.5" x2="658.7" y2="280.3" stroke="#b0b0b0" stroke-width="0.7" />
<line x1="551.6" y1="179.6" x2="670.9" y2="179.6" stroke="#b0b0b0" stroke-width="0.7" />
<line x1="551.6" y1="199.1" x2="670.9" y2="199.1" stroke="#b0b0b0" stroke-width="0.7" />
<line x1="551.6" y1="218.6" x2="670.9" y2="218.6" stroke="#b0b0b0" stroke-width="0.7" />
<line x1="551.6" y1="238.1" x2="670.9" y2="238.1" stroke="#b0b0b0" stroke-width="0.7" />
<line x1="551.6" y1="257.6" x2="670.9" y2="257.6" stroke="#b0b0b0" stroke-width="0.7" />
<line x1="551.6" y1="277.1" x2="670.9" y2="277.1" stroke="#b0b0b0" stroke-width="0.7" />
<rect x="554.1" y="199.1" width="18.8" height="53.82" fill="#6f7bef" stroke="none" stroke-width="0.8" />
<rect x="578" y="181.94" width="18.8" height="17.16" fill="#6650f0" stroke="none" stroke-width="0.8" />
<rect x="601.9" y="183.69" width="18.8" height="15.41" fill="#8030d0" stroke="none" stroke-width="0.8" />
<rect x="625.6" y="194.62" width="18.8" height="4.48" fill="#8e0f9a" stroke="none" stroke-width="0.8" />
<line x1="551.6" y1="199.1" x2="670.9" y2="199.1" stroke="#000" stroke-width="1.2" />
<line x1="563.5" y1="229.13" x2="563.5" y2="276.71" stroke="#000" stroke-width="1.1" />
<line x1="560.9" y1="229.13" x2="566.1" y2="229.13" stroke="#000" stroke-width="1.1" />
<line x1="560.9" y1="276.71" x2="566.1" y2="276.71" stroke="#000" stroke-width="1.1" />
<line x1="587.4" y1="174.53" x2="587.4" y2="190.13" stroke="#000" stroke-width="1.1" />
<line x1="584.8" y1="174.53" x2="590" y2="174.53" stroke="#000" stroke-width="1.1" />
<line x1="584.8" y1="190.13" x2="590" y2="190.13" stroke="#000" stroke-width="1.1" />
<line x1="611.3" y1="174.53" x2="611.3" y2="193.44" stroke="#000" stroke-width="1.1" />
<line x1="608.7" y1="174.53" x2="613.9" y2="174.53" stroke="#000" stroke-width="1.1" />
<line x1="608.7" y1="193.44" x2="613.9" y2="193.44" stroke="#000" stroke-width="1.1" />
<line x1="635" y1="182.53" x2="635" y2="205.73" stroke="#000" stroke-width="1.1" />
<line x1="632.4" y1="182.53" x2="637.6" y2="182.53" stroke="#000" stroke-width="1.1" />
<line x1="632.4" y1="205.73" x2="637.6" y2="205.73" stroke="#000" stroke-width="1.1" />
<line x1="658.7" y1="188.38" x2="658.7" y2="209.04" stroke="#000" stroke-width="1.1" />
<line x1="656.1" y1="188.38" x2="661.3" y2="188.38" stroke="#000" stroke-width="1.1" />
<line x1="656.1" y1="209.04" x2="661.3" y2="209.04" stroke="#000" stroke-width="1.1" />
<text x="563.85" y="177.6" font-size="12.2" text-anchor="middle" style='font-family:"DejaVu Sans", "Liberation Sans", sans-serif' fill="#6f7bef" transform="rotate(0.1 563.85 177.6)" stroke="#6f7bef" stroke-width="0.4" letter-spacing="0.55">***</text>
<text x="587.75" y="177.6" font-size="12.2" text-anchor="middle" style='font-family:"DejaVu Sans", "Liberation Sans", sans-serif' fill="#6650f0" transform="rotate(0.1 587.75 177.6)" stroke="#6650f0" stroke-width="0.4" letter-spacing="0.55">***</text>
<text x="611.65" y="177.6" font-size="12.2" text-anchor="middle" style='font-family:"DejaVu Sans", "Liberation Sans", sans-serif' fill="#8030d0" transform="rotate(0.1 611.65 177.6)" stroke="#8030d0" stroke-width="0.4" letter-spacing="0.55">***</text>
<rect x="551.6" y="168.5" width="119.3" height="111.8" fill="none" stroke="#2e2e2e" stroke-width="0.7" />
<line x1="563.5" y1="280.3" x2="563.5" y2="282.7" stroke="#2e2e2e" stroke-width="0.7" />
<line x1="587.4" y1="280.3" x2="587.4" y2="282.7" stroke="#2e2e2e" stroke-width="0.7" />
<line x1="611.3" y1="280.3" x2="611.3" y2="282.7" stroke="#2e2e2e" stroke-width="0.7" />
<line x1="635" y1="280.3" x2="635" y2="282.7" stroke="#2e2e2e" stroke-width="0.7" />
<line x1="658.7" y1="280.3" x2="658.7" y2="282.7" stroke="#2e2e2e" stroke-width="0.7" />
<line x1="549.2" y1="179.6" x2="551.6" y2="179.6" stroke="#2e2e2e" stroke-width="0.7" />
<line x1="549.2" y1="199.1" x2="551.6" y2="199.1" stroke="#2e2e2e" stroke-width="0.7" />
<line x1="549.2" y1="218.6" x2="551.6" y2="218.6" stroke="#2e2e2e" stroke-width="0.7" />
<line x1="549.2" y1="238.1" x2="551.6" y2="238.1" stroke="#2e2e2e" stroke-width="0.7" />
<line x1="549.2" y1="257.6" x2="551.6" y2="257.6" stroke="#2e2e2e" stroke-width="0.7" />
<line x1="549.2" y1="277.1" x2="551.6" y2="277.1" stroke="#2e2e2e" stroke-width="0.7" />
<text x="547.1" y="183.9" font-size="9.7" text-anchor="end" fill="#000" transform="rotate(0.1 547.1 183.9)"  stroke="#000" stroke-width="0.14">5</text>
<text x="547.1" y="203.8" font-size="9.7" text-anchor="end" fill="#000" transform="rotate(0.1 547.1 203.8)"  stroke="#000" stroke-width="0.14">0</text>
<text x="547.1" y="223.1" font-size="9.7" text-anchor="end" fill="#000" transform="rotate(0.1 547.1 223.1)"  stroke="#000" stroke-width="0.14">-5</text>
<text x="547.1" y="241.8" font-size="9.7" text-anchor="end" fill="#000" transform="rotate(0.1 547.1 241.8)"  stroke="#000" stroke-width="0.14">-10</text>
<text x="547.1" y="261.4" font-size="9.7" text-anchor="end" fill="#000" transform="rotate(0.1 547.1 261.4)"  stroke="#000" stroke-width="0.14">-15</text>
<text x="547.1" y="280.7" font-size="9.7" text-anchor="end" fill="#000" transform="rotate(0.1 547.1 280.7)"  stroke="#000" stroke-width="0.14">-20</text>
<text x="561.7" y="290.9" font-size="9.8" text-anchor="middle" fill="#000" transform="rotate(-30 561.7 287.6)" stroke="#000" stroke-width="0.14">75:2</text>
<text x="567" y="299.7" font-size="9.8" text-anchor="middle" fill="#000" transform="rotate(-30 567 296.4)" stroke="#000" stroke-width="0.14">5</text>
<text x="585.6" y="290.9" font-size="9.8" text-anchor="middle" fill="#000" transform="rotate(-30 585.6 287.6)" stroke="#000" stroke-width="0.14">80:2</text>
<text x="590.9" y="299.7" font-size="9.8" text-anchor="middle" fill="#000" transform="rotate(-30 590.9 296.4)" stroke="#000" stroke-width="0.14">0</text>
<text x="612.1" y="295.1" font-size="9.8" text-anchor="middle" fill="#000" transform="rotate(-30 612.1 291.8)" stroke="#000" stroke-width="0.14">90:10</text>
<text x="635.8" y="295.1" font-size="9.8" text-anchor="middle" fill="#000" transform="rotate(-30 635.8 291.8)" stroke="#000" stroke-width="0.14">95:5</text>
<text x="659.5" y="295.1" font-size="9.8" text-anchor="middle" fill="#000" transform="rotate(-30 659.5 291.8)" stroke="#000" stroke-width="0.14">100:0</text>
<text x="617" y="311.4" font-size="12.6" text-anchor="middle" fill="#000" transform="rotate(0.1 617 311.4)"  stroke="#000" stroke-width="0.14">E:I Ratio</text>
<text x="514.8" y="220" font-size="11" text-anchor="middle" fill="#000" transform="rotate(-90 514.8 220)"  stroke="#000" stroke-width="0.14">Difference with</text>
<text x="527.4" y="219" font-size="11" text-anchor="middle" fill="#000" transform="rotate(-90 527.4 219)"  stroke="#000" stroke-width="0.14">100:0 Network</text>
<rect x="585.6" y="258.2" width="83.4" height="18.2" fill="#fff" stroke="#222" stroke-width="0.8" fill-opacity="0.85"/>
<text x="591" y="271.6" font-size="10.85" text-anchor="start" fill="#000" transform="rotate(0.1 591 271.6)"  stroke="#000" stroke-width="0.14">σ<tspan font-size="7.5" dy="2.4">noise</tspan><tspan dy="-2.4"> = 0.6</tspan><tspan font-size="13.5" dy="1.5" dx="-0.3">*</tspan><tspan dy="-1.5" dx="-0.8">σ</tspan><tspan font-size="7.5" dy="2.4" dx="0">init</tspan></text>
<text x="516" y="162" font-size="14" text-anchor="start" font-weight="bold" fill="#000" transform="rotate(0.1 516 162)" >e)</text>
</svg>
</body>
</html>
